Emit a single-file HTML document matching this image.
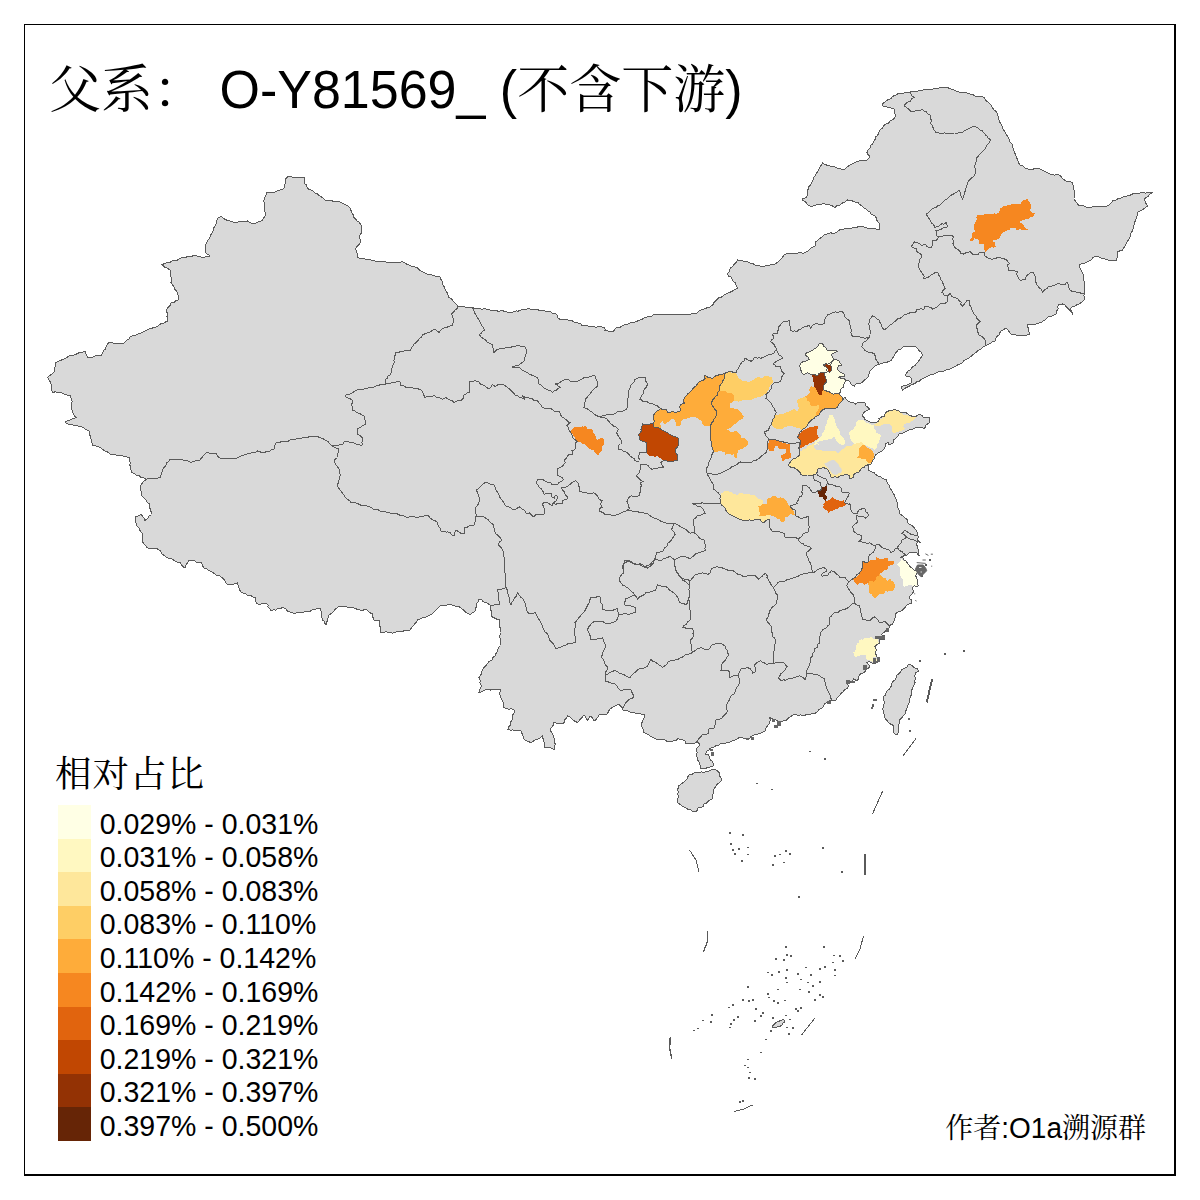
<!DOCTYPE html>
<html lang="zh"><head><meta charset="utf-8"><title>父系： O-Y81569_ (不含下游)</title>
<style>
html,body{margin:0;padding:0;background:#fff}
body{width:1200px;height:1200px;position:relative;overflow:hidden;font-family:"Liberation Sans","Noto Serif CJK SC",serif;color:#000}
.frame{position:absolute;left:24px;top:24px;width:1152px;height:1152px;box-sizing:border-box;border-style:solid;border-color:#000;border-width:1px 2px 2px 1px}
.title{position:absolute;left:49px;top:58px;font-size:52px;line-height:64px;white-space:pre;margin:0;font-weight:normal}
.ltitle{position:absolute;left:55px;top:752.5px;font-size:36.5px;line-height:44px;white-space:pre;letter-spacing:1px}
.sw{position:absolute;left:58px;width:33px;height:33.90px}
.lb{position:absolute;left:99.7px;font-size:28.5px;line-height:34px;white-space:pre;transform-origin:0 26.9px;transform:scaleY(1.04)}
.lat{display:inline-block;transform:scaleY(1.04)}
.author{position:absolute;right:54px;top:1112px;font-size:28px;line-height:34px;white-space:pre}
</style></head><body>
<svg width="1200" height="1200" viewBox="0 0 1200 1200" style="position:absolute;left:0;top:0">
<path d="M146.0,479.5 L143.9,477.8 L140.5,477.0 L139.4,475.6 L136.3,475.4 L135.0,474.0 L132.0,472.5 L130.8,469.3 L130.7,467.3 L129.8,464.9 L130.2,462.6 L129.5,460.4 L129.0,457.0 L126.7,457.0 L123.4,456.5 L121.8,455.2 L118.5,455.7 L114.7,454.5 L113.4,454.2 L110.0,454.0 L107.3,451.8 L105.4,451.4 L103.7,450.1 L101.0,448.0 L97.8,446.6 L96.1,445.9 L93.0,445.5 L92.1,443.1 L91.5,441.1 L90.9,438.6 L90.3,436.3 L89.5,434.0 L89.0,431.0 L87.1,430.3 L84.9,428.7 L83.2,427.6 L81.0,426.5 L78.4,426.1 L75.5,425.4 L72.4,424.9 L70.0,425.0 L66.8,423.6 L65.0,422.0 L67.0,420.9 L70.5,419.7 L73.9,418.4 L76.0,417.5 L74.5,415.9 L72.5,412.5 L72.0,410.0 L71.1,406.6 L71.7,404.6 L72.1,401.3 L70.9,398.1 L71.0,396.0 L68.5,395.6 L65.4,394.5 L62.3,393.3 L60.0,392.0 L58.0,392.3 L55.3,391.8 L52.5,392.5 L51.7,390.0 L51.6,386.9 L51.0,383.8 L50.4,382.1 L48.7,379.5 L47.5,377.5 L49.1,375.9 L51.6,374.3 L54.0,372.5 L54.6,370.6 L54.6,367.5 L55.6,366.0 L55.5,363.0 L58.1,361.2 L60.6,360.4 L62.8,359.5 L65.9,358.3 L68.5,356.1 L71.0,355.5 L73.2,355.3 L76.2,354.2 L78.8,352.9 L81.7,352.5 L85.0,351.0 L85.4,353.0 L86.9,355.3 L87.5,357.5 L89.7,357.7 L92.8,357.0 L96.0,355.7 L98.8,355.1 L101.0,355.5 L102.9,353.1 L103.2,350.5 L105.7,348.9 L105.7,347.4 L107.2,344.5 L108.8,342.5 L111.3,342.1 L114.1,343.5 L117.8,343.4 L120.4,343.3 L122.5,343.8 L124.7,342.4 L126.8,340.2 L128.9,338.9 L130.0,337.0 L133.0,335.6 L135.4,335.1 L137.8,334.2 L140.8,333.2 L142.0,332.5 L145.2,330.8 L147.3,329.7 L150.5,328.6 L152.5,328.0 L155.6,327.2 L158.3,325.7 L160.7,323.7 L162.5,324.0 L165.4,322.1 L168.0,321.0 L167.8,318.3 L166.9,316.2 L167.5,313.9 L166.8,311.8 L167.0,308.8 L168.4,307.1 L170.5,304.8 L171.0,303.0 L174.2,302.2 L176.0,300.7 L178.0,300.0 L178.5,297.5 L178.2,295.5 L177.5,293.8 L176.7,291.1 L174.5,289.3 L174.3,287.4 L172.1,284.1 L171.0,282.5 L171.6,278.8 L171.0,276.6 L170.9,273.5 L171.0,271.0 L169.6,269.7 L166.8,268.0 L164.3,266.9 L162.0,264.5 L165.1,263.5 L167.4,262.6 L170.0,262.3 L171.8,261.0 L175.0,260.0 L177.4,260.1 L180.3,258.2 L184.0,257.2 L186.1,257.2 L188.7,256.0 L191.5,256.4 L195.0,255.0 L196.9,255.9 L200.3,256.7 L202.5,258.0 L205.5,256.8 L206.8,256.5 L210.0,256.0 L208.4,254.7 L206.7,253.8 L205.5,252.0 L205.4,249.2 L205.6,247.3 L205.0,245.0 L206.7,242.8 L208.2,239.5 L209.6,238.4 L210.6,235.0 L212.5,232.5 L213.2,230.0 L213.8,227.7 L215.3,225.8 L216.5,222.4 L217.0,220.0 L218.1,218.1 L220.0,216.8 L222.0,216.9 L224.9,219.4 L227.0,220.2 L228.5,220.7 L231.2,221.2 L234.0,222.5 L236.4,222.4 L239.1,221.8 L241.5,221.1 L245.0,221.8 L247.5,221.0 L250.3,222.7 L252.5,223.8 L255.2,223.4 L257.8,222.0 L260.7,221.1 L262.5,220.0 L263.9,217.8 L265.5,215.0 L265.1,212.5 L264.7,210.0 L264.7,206.9 L264.8,204.3 L263.9,202.1 L264.0,200.0 L264.7,198.1 L266.0,195.2 L266.0,193.0 L268.5,192.6 L269.9,192.9 L273.2,192.8 L275.0,192.0 L277.8,190.5 L279.7,190.1 L282.5,189.3 L285.0,187.5 L284.5,185.6 L285.6,182.2 L285.0,180.0 L285.8,178.5 L287.5,177.0 L291.0,176.3 L292.3,177.4 L296.5,177.1 L298.7,177.3 L300.6,177.5 L304.0,177.0 L304.4,179.9 L304.4,182.3 L305.0,184.0 L306.4,184.9 L307.5,188.3 L309.0,189.5 L311.5,190.3 L313.2,191.3 L315.2,193.3 L317.5,194.0 L319.0,195.4 L322.2,197.5 L324.0,198.8 L326.0,201.0 L328.9,200.8 L331.5,200.4 L332.9,201.3 L336.0,201.0 L338.5,201.7 L340.8,202.1 L344.0,204.0 L346.1,205.1 L347.8,206.1 L350.0,208.0 L350.9,210.3 L351.9,213.0 L353.3,215.0 L354.0,217.5 L356.3,219.7 L357.0,221.3 L359.3,222.3 L361.0,225.0 L361.8,227.2 L361.4,228.7 L362.0,231.0 L361.2,233.2 L359.5,236.0 L359.7,238.9 L361.0,240.5 L359.9,243.3 L358.8,244.6 L356.9,246.6 L355.5,249.0 L357.0,252.5 L357.1,255.5 L358.0,257.5 L360.3,258.5 L363.0,258.5 L366.5,259.3 L369.1,259.2 L372.5,260.5 L375.7,261.2 L377.7,261.8 L380.5,261.7 L383.3,261.4 L386.0,262.0 L388.0,262.2 L391.6,262.3 L393.1,262.5 L395.7,262.4 L399.4,262.3 L402.1,261.8 L404.0,262.5 L406.4,264.0 L409.5,265.1 L412.7,266.7 L415.0,267.0 L417.3,267.7 L419.2,269.8 L422.4,271.7 L424.3,272.5 L427.1,274.1 L429.0,275.0 L431.5,274.8 L435.3,276.1 L437.8,276.3 L440.0,277.0 L440.6,279.1 L441.8,280.6 L442.5,282.5 L442.9,285.1 L444.4,286.8 L445.1,289.6 L447.3,292.9 L447.8,294.7 L449.0,297.5 L450.9,298.4 L452.9,300.6 L453.7,302.0 L456.1,304.0 L457.5,306.0 L460.9,306.8 L463.4,306.7 L466.0,307.3 L468.4,307.6 L471.0,307.5 L474.0,308.1 L476.0,308.8 L478.4,308.2 L482.1,309.3 L484.6,308.6 L487.4,309.3 L490.0,310.0 L492.8,310.2 L496.1,310.4 L498.8,311.5 L501.9,310.5 L504.1,311.2 L507.6,312.3 L510.0,312.0 L513.1,312.0 L516.4,310.7 L517.8,311.3 L521.3,309.8 L525.1,309.6 L527.0,308.9 L530.0,309.0 L533.1,309.8 L535.1,309.7 L537.5,309.7 L539.5,310.3 L541.9,310.8 L545.0,311.0 L547.3,311.0 L550.7,311.8 L552.6,313.7 L556.0,314.0 L557.6,315.8 L557.8,317.7 L560.0,319.5 L563.2,319.6 L564.4,319.6 L567.3,319.8 L570.2,320.8 L572.5,321.0 L574.5,322.2 L578.2,323.1 L580.7,323.9 L581.9,325.5 L585.0,326.0 L587.2,325.7 L589.9,326.9 L593.9,326.3 L595.5,327.5 L598.7,326.5 L601.1,326.9 L604.0,327.5 L605.2,329.2 L605.0,330.5 L607.4,330.8 L609.6,331.8 L612.5,332.0 L613.8,330.9 L615.9,328.1 L617.5,327.5 L620.3,327.1 L622.5,325.6 L625.0,324.3 L627.4,324.2 L630.3,322.9 L632.5,322.5 L636.0,321.8 L638.1,320.6 L639.7,320.0 L643.0,318.8 L645.0,317.6 L647.8,316.7 L651.5,316.6 L653.3,314.9 L656.0,314.5 L658.2,314.8 L661.1,314.2 L664.3,314.9 L666.2,314.4 L670.0,314.5 L672.3,314.5 L675.2,314.9 L677.5,315.0 L679.5,314.4 L683.3,314.7 L685.1,314.5 L689.0,314.4 L691.5,313.9 L694.0,314.0 L696.0,313.6 L698.2,311.8 L700.0,310.5 L702.6,309.6 L704.6,308.9 L706.7,307.9 L709.0,307.5 L710.6,306.5 L713.0,304.5 L713.6,302.7 L715.8,300.8 L717.5,299.0 L718.9,297.7 L721.6,297.1 L723.3,295.5 L726.0,294.0 L728.1,292.9 L731.3,291.7 L733.4,290.4 L735.0,289.7 L737.5,288.0 L736.9,286.4 L735.8,284.3 L735.0,282.5 L733.1,281.3 L731.2,277.2 L728.8,276.3 L727.5,274.0 L729.1,271.8 L729.5,270.2 L731.0,267.5 L733.1,266.2 L734.2,264.1 L735.9,262.7 L737.5,260.0 L739.4,260.2 L743.3,261.2 L745.6,261.4 L748.3,262.0 L750.0,263.0 L752.4,263.1 L755.2,265.2 L757.5,265.4 L759.6,265.8 L762.5,267.0 L765.0,266.1 L767.6,265.4 L769.6,265.4 L772.0,264.1 L775.0,264.0 L777.9,262.2 L780.1,260.1 L781.3,258.8 L784.1,255.1 L786.0,254.0 L789.0,253.5 L790.7,253.2 L794.4,253.2 L797.5,253.2 L799.0,252.6 L803.1,253.2 L805.0,252.5 L808.2,251.1 L810.1,248.7 L813.1,246.9 L815.0,246.0 L815.5,244.6 L815.5,242.0 L817.5,240.8 L819.2,238.7 L821.7,237.4 L824.0,235.0 L825.9,234.3 L828.3,233.6 L830.7,232.9 L834.3,233.4 L836.0,232.5 L838.0,231.3 L840.0,229.5 L843.5,229.4 L844.9,228.6 L848.1,228.2 L852.0,228.1 L854.6,227.6 L857.2,227.1 L860.0,226.0 L862.5,226.6 L865.6,227.4 L867.2,228.3 L870.0,229.0 L871.7,228.9 L874.1,228.6 L876.7,229.1 L879.5,229.5 L879.9,226.7 L880.0,224.0 L878.6,222.5 L877.0,220.4 L876.0,217.5 L874.4,215.5 L870.9,214.0 L869.9,212.1 L867.5,210.5 L865.5,208.6 L863.2,207.5 L861.8,206.0 L859.0,203.8 L857.5,202.0 L854.8,202.0 L852.6,201.0 L850.6,200.6 L847.5,200.0 L844.8,202.0 L842.0,203.2 L839.9,205.2 L836.6,205.8 L835.0,207.5 L832.5,206.0 L830.1,205.1 L827.4,204.6 L825.0,204.0 L822.2,203.8 L819.6,205.0 L817.4,204.9 L814.4,205.2 L812.6,206.1 L810.0,206.0 L807.3,204.6 L806.0,202.3 L804.8,201.7 L802.0,200.0 L802.9,198.6 L805.8,197.9 L807.0,196.0 L807.4,194.2 L807.3,191.2 L808.0,189.5 L808.9,186.6 L810.8,184.7 L812.1,181.5 L812.9,180.1 L814.3,176.7 L815.6,175.0 L816.9,172.7 L818.6,169.7 L819.5,167.5 L821.5,165.0 L822.5,163.0 L824.2,164.0 L827.9,165.6 L830.2,166.0 L832.8,167.0 L834.6,166.9 L837.6,168.3 L840.2,168.6 L842.5,170.0 L844.7,169.2 L847.6,166.4 L849.2,165.6 L852.2,163.7 L855.0,162.5 L857.2,161.3 L860.3,160.8 L862.6,160.9 L865.8,160.6 L867.5,159.5 L869.3,157.6 L870.0,156.0 L867.9,154.5 L867.0,152.5 L867.9,150.3 L870.1,148.1 L870.9,145.2 L872.5,144.0 L873.5,141.9 L874.9,139.9 L875.7,136.9 L877.8,135.2 L879.0,131.9 L880.0,130.0 L882.5,128.1 L884.0,125.3 L886.0,124.0 L888.7,122.9 L890.6,120.5 L892.8,119.8 L895.0,117.5 L895.4,115.0 L894.7,112.5 L894.0,109.0 L890.7,107.8 L887.6,107.3 L886.2,106.6 L882.5,106.0 L882.7,104.0 L884.0,102.5 L886.2,101.1 L888.0,99.6 L890.9,98.7 L892.8,96.3 L894.9,95.5 L897.5,94.0 L899.3,93.7 L902.2,93.7 L905.0,92.6 L907.6,92.3 L910.0,92.0 L912.8,91.7 L916.5,91.6 L919.4,90.7 L921.7,90.2 L924.9,89.5 L927.8,89.9 L930.0,89.0 L932.6,89.0 L935.0,88.3 L938.1,88.4 L939.6,87.9 L942.3,87.5 L945.0,87.0 L947.8,87.6 L949.9,88.7 L953.9,90.1 L956.0,91.0 L959.1,92.1 L961.4,92.3 L964.8,92.3 L968.0,93.2 L970.0,94.0 L972.6,94.5 L974.7,95.8 L977.4,96.6 L981.8,96.6 L984.0,97.5 L985.1,99.4 L986.9,101.4 L989.0,102.8 L991.0,105.0 L992.4,107.4 L993.8,109.8 L996.5,111.9 L997.5,114.0 L998.3,117.0 L999.1,120.4 L1000.0,122.5 L1001.0,124.1 L1002.5,126.8 L1003.0,129.3 L1005.0,131.9 L1006.0,134.0 L1007.6,136.3 L1009.1,138.8 L1009.7,141.6 L1011.5,143.2 L1012.5,145.0 L1013.0,147.7 L1013.5,150.2 L1015.3,154.1 L1016.0,156.0 L1017.2,159.0 L1018.2,161.2 L1018.6,163.0 L1020.0,165.0 L1023.5,166.3 L1025.0,168.2 L1027.5,169.0 L1030.4,169.3 L1033.2,169.7 L1034.3,168.3 L1037.0,168.8 L1040.0,169.0 L1041.8,170.0 L1044.7,171.4 L1048.2,173.2 L1050.0,174.0 L1052.7,174.2 L1054.5,175.1 L1056.4,174.9 L1059.0,175.0 L1061.0,176.5 L1062.5,178.8 L1063.9,179.7 L1066.0,181.0 L1067.7,181.5 L1071.0,182.0 L1072.5,183.0 L1073.4,185.8 L1073.8,189.3 L1074.5,191.1 L1075.0,194.0 L1074.1,195.7 L1074.0,199.0 L1076.1,202.0 L1077.2,203.2 L1079.0,206.0 L1082.4,205.9 L1085.1,206.1 L1086.7,207.3 L1090.0,207.5 L1092.3,207.0 L1095.2,206.6 L1099.4,206.7 L1100.8,206.3 L1105.0,206.4 L1107.5,206.0 L1109.8,204.5 L1111.3,202.9 L1112.5,201.0 L1114.8,200.5 L1118.0,198.7 L1120.6,198.3 L1122.3,197.4 L1125.0,196.0 L1126.8,196.0 L1130.1,195.3 L1132.9,193.8 L1135.6,193.3 L1137.0,194.0 L1140.0,193.0 L1143.2,192.5 L1145.5,193.3 L1148.1,192.0 L1150.2,192.0 L1152.5,192.5 L1149.5,194.3 L1148.4,196.0 L1146.8,197.0 L1144.0,199.0 L1145.4,201.6 L1145.9,203.2 L1147.5,206.0 L1144.6,208.1 L1143.1,209.5 L1140.3,210.8 L1137.5,212.5 L1137.4,215.2 L1136.3,218.3 L1135.5,220.8 L1134.7,221.7 L1134.0,225.0 L1133.0,228.7 L1132.4,230.9 L1131.0,232.6 L1130.2,236.9 L1129.0,239.0 L1127.6,241.2 L1126.1,243.9 L1125.4,245.7 L1123.7,247.8 L1122.5,250.0 L1119.7,250.9 L1117.5,252.0 L1118.0,253.9 L1117.8,256.9 L1116.6,259.1 L1117.0,261.0 L1114.0,260.4 L1112.8,260.4 L1109.4,260.2 L1107.5,260.0 L1105.7,259.1 L1103.0,258.5 L1101.2,258.2 L1098.5,256.5 L1096.0,256.0 L1092.7,257.5 L1091.6,259.5 L1088.0,261.7 L1086.0,262.5 L1084.2,263.5 L1081.7,263.4 L1079.0,265.0 L1080.2,268.2 L1081.1,270.5 L1082.5,272.5 L1083.3,274.3 L1083.1,277.8 L1083.6,280.6 L1084.7,282.5 L1084.5,285.0 L1084.2,287.5 L1084.2,288.9 L1084.1,292.3 L1084.5,294.0 L1083.7,295.5 L1084.6,297.5 L1084.0,300.0 L1081.7,302.1 L1079.1,303.9 L1077.6,304.2 L1075.0,306.0 L1072.1,307.1 L1070.0,309.0 L1071.8,311.1 L1072.1,312.3 L1073.0,315.0 L1071.6,312.3 L1070.0,310.4 L1068.2,308.9 L1066.2,306.7 L1065.0,305.0 L1062.6,304.0 L1060.4,304.6 L1059.0,304.0 L1057.7,306.8 L1058.2,308.9 L1056.3,311.2 L1056.0,314.0 L1054.0,315.0 L1051.5,316.5 L1049.9,315.9 L1047.5,317.5 L1045.4,319.5 L1043.4,320.9 L1041.0,322.5 L1038.5,323.1 L1036.1,324.1 L1032.3,324.7 L1030.7,324.3 L1027.5,325.0 L1028.0,327.4 L1028.8,330.1 L1028.7,331.7 L1030.0,334.0 L1027.1,335.0 L1025.0,336.0 L1022.3,335.3 L1020.0,335.1 L1016.5,335.1 L1013.5,334.5 L1011.0,334.0 L1009.2,331.8 L1008.3,330.1 L1006.0,328.0 L1003.9,329.6 L1001.2,330.8 L1000.0,332.5 L998.8,335.2 L997.1,336.3 L995.5,338.8 L995.0,341.0 L992.7,341.7 L990.6,343.3 L987.5,344.7 L985.0,346.0 L983.0,347.0 L981.2,349.1 L978.1,350.2 L976.1,352.2 L974.7,353.4 L972.5,355.0 L971.0,356.5 L969.0,358.0 L965.8,359.7 L964.4,360.2 L961.9,363.0 L960.0,364.0 L957.3,365.1 L954.4,366.7 L951.8,368.0 L950.0,369.0 L947.2,369.3 L945.0,370.8 L942.1,371.5 L939.8,371.3 L936.7,372.5 L933.6,374.3 L932.0,374.2 L928.6,375.8 L926.7,376.7 L924.1,377.9 L921.5,379.1 L919.0,381.3 L916.7,381.7 L915.3,383.3 L911.7,384.7 L910.0,385.8 L908.1,386.7 L904.8,388.4 L902.5,390.0 L901.5,388.2 L901.7,386.7 L904.2,385.4 L905.9,385.8 L908.2,384.3 L910.8,383.3 L911.5,381.2 L911.7,378.3 L909.6,376.9 L907.9,376.5 L905.0,375.8 L906.5,373.1 L908.3,370.8 L910.7,369.4 L912.5,366.7 L915.3,365.1 L916.7,363.3 L918.3,361.6 L920.1,358.7 L920.9,357.8 L922.5,355.0 L921.0,352.2 L919.4,351.0 L917.4,348.2 L915.8,346.7 L913.5,346.2 L911.3,347.0 L908.8,346.4 L905.5,346.3 L903.3,346.7 L901.0,349.1 L898.9,349.1 L896.7,351.7 L895.3,353.1 L894.4,355.6 L892.4,358.2 L891.7,360.0 L889.3,361.4 L887.0,362.2 L884.0,362.6 L882.0,363.3 L879.2,364.2 L876.7,365.0 L874.8,366.2 L873.3,367.9 L871.6,369.5 L869.2,371.7 L869.0,374.0 L868.8,375.8 L867.7,377.6 L865.0,379.6 L863.4,380.9 L861.7,382.9 L859.3,383.6 L856.7,383.8 L855.4,384.4 L854.6,386.2 L853.0,385.7 L851.2,384.2 L850.1,382.2 L848.3,380.4 L846.4,380.1 L845.0,379.2 L845.0,381.7 L843.8,384.2 L843.3,387.1 L842.0,387.9 L840.8,389.2 L841.0,391.1 L840.0,392.5 L838.8,393.8 L840.9,395.5 L842.2,397.6 L843.3,398.8 L845.0,397.5 L846.0,398.8 L847.5,400.8 L849.2,401.7 L851.7,402.9 L853.8,403.0 L855.8,404.2 L857.5,402.5 L860.2,402.0 L862.5,402.5 L864.0,402.0 L865.4,403.4 L866.0,406.0 L868.0,407.4 L869.5,409.0 L867.0,410.5 L864.9,411.7 L863.5,413.0 L862.6,414.3 L862.5,416.0 L863.8,416.9 L864.5,419.0 L867.1,420.4 L869.0,421.5 L871.3,422.7 L874.0,423.0 L875.8,422.5 L878.0,421.5 L879.2,420.0 L879.0,418.5 L881.9,416.8 L884.0,416.5 L884.7,414.4 L886.0,412.5 L887.4,411.4 L890.0,410.5 L892.1,410.5 L895.0,409.0 L896.6,410.5 L899.0,411.0 L900.6,412.4 L903.0,413.0 L905.0,412.9 L906.0,412.5 L908.2,414.3 L910.0,415.5 L911.8,416.1 L913.4,416.5 L916.0,416.5 L918.3,414.7 L920.0,414.5 L921.8,415.3 L923.0,417.0 L925.1,417.8 L927.9,417.9 L930.0,418.0 L929.0,420.1 L929.0,423.0 L927.5,424.1 L926.0,425.0 L925.6,426.7 L924.0,428.5 L921.6,427.5 L919.0,427.0 L916.0,427.7 L914.0,428.5 L911.9,429.5 L909.0,430.0 L906.7,431.3 L904.0,432.5 L901.0,433.7 L899.0,434.0 L898.1,435.9 L897.0,437.0 L895.4,438.5 L894.0,439.5 L893.2,440.7 L893.0,443.0 L891.1,444.1 L889.0,444.5 L888.0,442.0 L886.8,443.0 L885.0,443.0 L885.4,445.0 L886.0,446.0 L885.2,447.0 L884.0,449.0 L882.4,450.7 L880.0,452.0 L878.4,452.8 L876.0,454.5 L874.7,456.4 L874.0,459.0 L872.4,460.9 L871.0,464.0 L868.5,465.5 L868.6,467.0 L868.0,469.0 L869.2,470.7 L872.0,472.0 L873.9,472.4 L875.4,474.4 L878.0,476.0 L880.9,476.9 L883.6,479.0 L886.0,479.5 L886.7,481.3 L887.4,483.1 L889.0,485.0 L890.1,488.2 L891.8,490.5 L893.0,493.0 L894.5,495.0 L895.0,496.8 L896.3,499.9 L897.0,502.0 L897.5,504.1 L897.8,507.9 L899.0,510.2 L899.0,513.0 L901.1,514.8 L903.8,516.7 L905.5,518.3 L907.5,520.0 L907.8,522.6 L909.2,524.2 L911.0,524.9 L913.3,526.7 L915.2,529.0 L916.7,530.8 L917.6,533.8 L917.9,535.8 L918.2,537.6 L917.5,540.0 L919.1,541.2 L920.4,542.1 L917.5,541.8 L916.7,543.2 L916.7,545.0 L917.6,546.8 L917.9,548.3 L918.4,551.3 L917.9,553.3 L918.8,554.7 L920.0,556.2 L917.9,555.0 L916.7,552.5 L914.8,552.6 L911.6,552.2 L909.2,552.9 L907.0,555.0 L905.0,555.8 L903.2,555.7 L900.8,557.1 L902.6,557.6 L904.2,560.2 L905.8,560.8 L907.5,563.0 L908.8,564.9 L910.8,567.5 L912.5,568.4 L914.2,570.0 L916.9,570.8 L917.9,572.1 L916.3,574.3 L915.4,575.8 L916.8,577.7 L917.1,580.0 L917.3,583.5 L918.3,585.8 L916.7,586.7 L914.2,585.8 L912.5,587.5 L912.9,589.1 L913.3,591.7 L912.6,593.5 L910.8,595.0 L909.2,597.5 L910.3,599.6 L911.7,600.0 L911.5,602.1 L911.2,603.3 L910.1,603.4 L908.3,604.2 L906.3,605.3 L905.0,607.5 L903.2,609.3 L901.7,610.8 L900.5,611.4 L898.3,611.7 L895.9,613.5 L895.0,615.0 L895.0,618.1 L894.7,620.0 L893.8,621.7 L892.7,624.0 L891.0,624.4 L890.0,626.0 L888.7,628.7 L886.0,630.0 L884.8,632.0 L883.3,632.7 L881.3,634.7 L882.6,635.2 L884.7,635.3 L884.7,636.8 L884.7,639.0 L882.7,639.8 L881.3,639.3 L879.3,640.0 L880.1,642.0 L879.7,643.3 L878.4,643.5 L876.7,644.7 L874.7,646.7 L876.0,649.3 L876.1,650.9 L875.7,653.3 L876.0,654.5 L876.0,656.3 L877.6,657.7 L879.3,658.0 L878.9,659.8 L879.7,661.3 L877.7,661.7 L876.7,662.7 L874.0,664.0 L871.3,662.7 L868.7,661.3 L866.7,662.7 L867.7,663.5 L869.3,665.3 L870.0,667.3 L868.1,668.2 L866.7,668.0 L866.0,670.0 L865.3,671.4 L864.0,672.7 L861.3,673.3 L859.3,675.3 L858.8,676.6 L858.7,678.7 L856.7,680.7 L855.0,679.7 L853.3,678.7 L852.8,680.4 L851.3,682.7 L849.8,681.5 L848.7,680.0 L846.7,682.0 L847.7,684.8 L848.7,686.0 L847.0,688.4 L845.3,689.3 L843.8,690.5 L843.3,692.0 L841.7,692.8 L840.7,694.0 L839.5,695.7 L837.3,697.3 L836.0,700.0 L833.4,700.5 L831.7,700.0 L829.7,700.4 L826.7,702.5 L824.9,703.8 L823.1,706.6 L821.7,708.3 L819.0,709.4 L817.1,712.0 L815.0,713.3 L811.8,713.7 L808.5,715.0 L806.3,714.7 L803.3,715.8 L800.5,714.9 L798.1,715.8 L796.3,714.7 L793.3,715.0 L790.5,716.7 L788.8,717.9 L786.7,720.0 L783.8,720.6 L780.6,721.7 L778.3,721.7 L775.7,719.8 L774.1,719.9 L772.2,718.6 L769.2,717.5 L769.5,718.6 L771.0,720.0 L770.0,721.0 L768.9,724.0 L767.5,726.0 L766.0,727.9 L765.0,731.0 L762.9,732.2 L760.6,733.3 L758.5,734.0 L756.1,734.4 L754.0,735.0 L751.2,736.4 L750.0,737.8 L748.0,739.5 L746.6,738.3 L745.0,738.0 L743.0,738.0 L740.9,737.7 L739.0,737.0 L737.9,738.6 L735.0,740.0 L732.1,741.0 L730.0,742.0 L726.7,742.3 L725.0,743.5 L723.0,743.5 L720.0,744.0 L718.6,745.5 L715.9,745.7 L714.0,747.0 L712.4,747.6 L710.0,748.5 L708.6,750.4 L707.0,751.0 L706.3,752.2 L705.5,754.5 L707.1,754.1 L708.5,755.0 L709.5,757.5 L710.6,760.0 L712.0,761.0 L712.9,762.7 L713.5,765.5 L711.6,766.7 L710.0,767.0 L707.9,767.6 L705.0,768.5 L702.1,768.0 L700.5,768.0 L700.1,764.9 L699.5,763.0 L698.3,761.0 L697.4,759.8 L697.0,757.0 L696.4,755.3 L697.2,752.2 L696.5,750.0 L697.1,747.6 L698.9,746.5 L699.5,744.0 L698.4,742.6 L697.0,741.5 L694.8,743.3 L693.0,743.5 L690.7,743.2 L688.7,743.6 L686.0,744.0 L685.1,742.2 L685.0,740.5 L683.1,740.0 L679.6,739.4 L678.0,738.5 L676.0,740.5 L673.6,740.7 L671.2,741.6 L669.0,742.0 L667.0,741.4 L664.0,739.5 L661.8,739.7 L660.0,740.0 L657.5,739.5 L655.3,738.8 L652.6,737.2 L650.2,736.1 L648.1,734.6 L646.3,733.8 L644.0,732.5 L643.8,730.5 L642.3,728.0 L641.4,725.6 L641.0,724.0 L642.2,722.4 L643.3,719.5 L644.5,717.3 L645.0,715.0 L642.6,714.6 L640.0,713.6 L638.2,713.7 L635.0,713.0 L632.4,712.8 L629.3,711.9 L628.0,710.9 L625.3,710.3 L622.5,710.0 L621.7,707.4 L620.0,705.5 L619.0,704.0 L616.2,705.6 L613.9,706.6 L612.3,707.6 L610.0,709.0 L608.4,711.4 L607.5,714.0 L604.7,714.3 L601.9,714.6 L599.0,715.0 L597.6,717.5 L596.3,719.1 L595.0,721.0 L593.1,719.7 L592.5,717.6 L590.0,716.0 L588.9,718.6 L587.5,720.0 L586.3,719.0 L585.3,716.3 L584.0,715.0 L582.2,717.3 L580.6,718.6 L579.3,720.7 L577.5,722.5 L574.7,721.2 L572.1,719.1 L570.2,717.0 L567.5,716.0 L566.6,718.2 L564.9,719.4 L564.3,722.4 L562.5,724.0 L560.4,723.2 L556.8,723.1 L554.0,722.5 L553.2,725.2 L552.2,726.7 L550.5,729.0 L551.0,731.5 L552.9,734.5 L553.3,736.4 L554.5,739.0 L554.3,741.2 L555.3,744.4 L554.4,747.1 L555.0,749.0 L552.9,749.0 L550.4,747.6 L547.4,748.0 L545.0,747.5 L544.9,744.5 L543.9,741.7 L543.0,738.5 L542.5,736.0 L539.9,738.2 L538.9,738.8 L535.8,739.8 L533.6,740.9 L531.0,742.5 L527.9,741.5 L525.6,740.2 L524.0,739.0 L523.1,736.5 L522.4,734.4 L521.0,731.0 L517.7,730.2 L515.4,730.7 L512.5,729.8 L510.9,730.4 L508.0,729.5 L508.8,726.6 L510.2,725.4 L510.9,721.8 L511.8,720.6 L512.5,717.5 L512.9,714.6 L514.0,712.9 L514.0,710.0 L511.2,708.8 L508.6,709.2 L506.7,708.8 L504.0,707.5 L503.5,705.4 L503.1,702.5 L502.2,700.0 L500.8,697.6 L500.0,695.0 L499.9,693.1 L500.1,691.4 L501.0,689.0 L498.9,689.5 L496.4,689.8 L492.4,689.2 L490.3,690.1 L487.1,689.2 L485.0,690.0 L482.9,691.3 L481.0,692.0 L479.0,692.5 L479.6,690.1 L481.0,687.1 L481.0,685.0 L479.9,682.6 L480.2,680.6 L479.0,677.5 L480.5,675.6 L481.6,673.4 L482.3,670.1 L484.0,667.5 L485.9,665.8 L487.9,662.9 L489.4,661.2 L491.7,660.4 L493.1,657.2 L495.0,656.0 L495.9,653.6 L497.3,651.3 L498.2,648.1 L500.0,646.0 L500.1,643.0 L500.6,641.2 L500.0,638.4 L499.8,635.9 L500.5,632.5 L500.6,630.2 L500.0,627.5 L499.4,624.5 L499.2,622.0 L499.5,620.0 L497.0,619.3 L494.6,618.0 L492.5,617.5 L491.2,614.7 L491.2,611.9 L490.9,609.8 L490.6,607.1 L490.0,605.0 L487.2,603.2 L485.0,602.5 L482.6,601.6 L482.3,600.3 L480.0,599.0 L478.4,600.1 L477.9,602.1 L476.0,604.0 L476.4,606.3 L475.9,607.9 L476.0,610.0 L473.8,612.4 L472.4,612.6 L470.0,615.0 L467.6,613.1 L466.0,612.5 L463.3,609.9 L462.2,609.0 L460.4,607.5 L457.5,606.0 L455.0,606.1 L452.2,605.0 L449.0,604.0 L446.2,605.3 L443.9,605.1 L442.3,605.3 L440.0,606.0 L438.1,607.9 L435.6,610.1 L434.8,611.2 L432.5,613.6 L430.0,615.0 L427.9,615.9 L425.7,617.4 L422.2,617.8 L419.9,619.2 L417.5,620.0 L416.1,622.6 L414.7,623.8 L413.2,625.9 L411.6,627.6 L410.0,630.0 L406.9,630.8 L404.4,630.3 L402.1,631.9 L399.8,632.0 L397.6,631.4 L395.0,632.5 L392.1,633.1 L388.7,632.3 L386.1,631.9 L383.1,632.2 L381.0,632.5 L380.9,629.7 L379.9,626.1 L379.9,623.1 L380.0,621.0 L377.8,620.9 L376.4,620.1 L374.0,620.0 L373.2,618.2 L372.6,616.1 L372.5,614.0 L370.3,612.9 L367.9,610.7 L366.0,609.0 L363.9,609.4 L362.5,611.0 L359.6,610.0 L357.4,609.9 L355.8,608.4 L352.5,607.5 L349.4,607.4 L346.8,606.9 L344.6,606.6 L341.7,606.0 L339.0,606.0 L337.6,607.4 L334.6,609.9 L333.6,611.5 L330.9,613.7 L329.0,615.0 L327.9,618.2 L327.6,619.7 L326.7,622.5 L326.0,625.0 L324.5,623.0 L324.2,621.4 L322.5,620.0 L321.8,617.6 L321.1,614.8 L321.3,613.4 L321.0,610.8 L320.0,608.0 L316.6,608.6 L315.3,610.0 L312.2,609.8 L310.3,611.1 L307.5,612.0 L304.9,611.5 L302.4,612.5 L300.6,612.8 L297.3,612.2 L295.6,613.1 L292.5,613.0 L289.1,611.7 L287.6,611.1 L285.4,608.5 L282.5,607.5 L280.2,608.8 L277.8,608.4 L276.1,610.1 L273.3,609.9 L271.0,611.0 L269.7,608.4 L267.9,607.2 L268.1,605.1 L266.0,603.0 L262.6,603.2 L260.2,604.4 L257.5,604.0 L256.1,602.2 L255.6,599.6 L255.0,597.5 L252.4,596.9 L250.8,595.4 L247.7,595.4 L245.8,593.8 L243.8,593.5 L241.0,592.0 L239.6,589.8 L239.0,587.8 L238.1,585.0 L237.5,583.0 L235.4,583.2 L232.4,584.6 L231.0,584.3 L228.0,585.0 L226.0,583.1 L224.7,580.4 L222.5,578.0 L219.8,576.0 L217.8,575.3 L215.9,574.9 L213.5,572.9 L211.6,571.8 L208.2,570.2 L206.9,568.9 L204.0,568.0 L202.8,566.3 L202.1,563.8 L201.0,562.5 L198.8,562.3 L196.6,562.2 L194.1,560.6 L191.1,560.5 L189.0,560.0 L187.5,562.9 L185.7,565.5 L185.0,568.0 L182.8,566.5 L181.2,564.5 L180.0,562.5 L176.8,562.0 L174.7,560.9 L172.6,559.3 L170.3,558.2 L168.3,558.1 L166.0,557.0 L164.3,555.7 L161.9,553.7 L160.5,550.9 L157.5,549.0 L155.2,548.5 L152.4,548.4 L149.0,549.0 L147.2,547.5 L145.3,545.5 L143.0,542.5 L142.5,540.7 L142.7,537.0 L142.5,535.0 L142.1,533.1 L139.8,530.3 L139.0,528.2 L137.0,526.0 L136.3,524.5 L135.9,522.2 L135.3,519.0 L135.0,517.0 L137.2,516.3 L139.6,515.1 L141.0,514.0 L142.7,516.5 L144.3,518.3 L145.0,520.5 L147.6,518.6 L149.1,516.1 L151.0,515.0 L151.1,511.8 L150.1,508.8 L149.4,507.4 L149.5,504.0 L147.6,502.9 L145.9,499.9 L144.1,498.1 L142.0,496.0 L141.7,492.8 L141.1,491.0 L140.6,488.3 L140.0,486.0 L142.0,483.6 L143.3,481.6Z M909.2,664.2 L910.8,664.6 L912.8,666.3 L914.2,667.9 L915.6,668.1 L917.1,668.8 L918.0,670.2 L918.8,671.7 L917.1,671.8 L915.8,672.9 L915.4,674.2 L914.6,675.8 L915.8,678.3 L914.9,680.6 L915.0,682.5 L914.4,684.3 L913.3,686.7 L912.3,688.8 L911.7,690.0 L911.2,691.5 L911.7,694.2 L910.7,695.9 L910.0,698.3 L909.9,700.3 L909.2,702.5 L908.0,705.3 L907.5,707.5 L906.2,709.5 L905.8,711.7 L905.2,713.7 L903.3,715.8 L902.2,717.3 L900.8,718.8 L899.4,720.1 L899.2,721.7 L899.4,723.1 L898.8,725.0 L898.8,727.1 L898.3,730.8 L898.1,732.9 L897.5,734.2 L895.8,734.6 L893.8,732.5 L893.2,729.7 L893.8,726.7 L892.5,724.6 L891.1,724.3 L889.2,723.3 L887.9,721.7 L885.8,719.2 L884.6,717.4 L884.6,715.0 L883.8,713.3 L883.8,711.2 L882.5,709.6 L882.8,708.3 L883.3,706.7 L884.2,703.6 L884.2,701.7 L883.2,699.8 L883.3,697.9 L884.2,695.9 L885.8,695.0 L885.9,692.9 L887.1,690.8 L889.2,689.2 L890.0,687.9 L891.2,686.2 L891.7,683.3 L892.8,681.5 L895.0,680.0 L896.2,677.5 L896.6,675.6 L898.3,674.2 L900.9,671.7 L901.7,669.6 L904.0,668.2 L905.8,667.9 L906.9,667.3 L907.5,665.4Z M689.0,775.0 L691.5,774.8 L693.5,773.4 L695.5,772.5 L697.7,772.5 L701.6,771.9 L704.0,772.5 L705.9,771.5 L708.3,771.3 L710.0,770.5 L712.0,769.6 L714.5,769.5 L716.7,770.2 L719.0,772.5 L719.5,775.4 L720.5,777.4 L721.5,779.0 L721.0,781.5 L719.4,782.7 L717.0,784.5 L715.5,786.8 L714.0,789.0 L713.2,791.1 L713.0,794.0 L712.4,796.1 L712.0,799.0 L709.5,800.3 L708.0,801.5 L706.5,803.0 L704.0,804.0 L703.0,806.5 L700.8,807.8 L698.0,808.0 L697.5,809.7 L696.5,811.0 L694.5,811.5 L692.2,811.2 L691.0,810.0 L688.1,809.4 L686.0,808.0 L684.6,807.3 L682.0,806.0 L680.4,804.8 L678.0,803.0 L677.1,801.4 L677.5,800.0 L678.1,798.1 L678.5,796.0 L677.9,794.6 L678.2,791.4 L677.5,790.0 L678.0,788.6 L678.0,786.0 L679.6,785.1 L681.5,783.5 L683.9,782.4 L686.0,780.0 L687.4,778.8 L688.0,776.5Z M772.0,1026.2 L774.1,1024.5 L776.2,1022.5 L778.0,1021.7 L781.4,1020.2 L783.7,1019.5 L785.0,1022.0 L782.5,1023.4 L782.0,1025.3 L780.0,1026.2 L778.0,1026.5 L775.0,1028.0 L772.7,1027.4Z" fill="#d9d9d9" stroke="none" shape-rendering="crispEdges"/>
<path d="M821.7,343.3 L823.3,344.5 L823.8,346.2 L825.3,347.0 L826.7,348.8 L827.1,350.8 L830.1,351.0 L832.5,350.8 L833.7,350.3 L835.8,350.4 L837.5,351.2 L836.0,352.1 L834.2,352.9 L832.1,353.8 L831.8,355.2 L832.5,357.5 L834.2,359.6 L836.7,360.0 L838.6,360.6 L839.2,361.7 L840.8,363.8 L842.1,365.0 L839.2,365.0 L837.9,367.1 L837.9,370.0 L840.0,372.1 L841.3,372.8 L843.3,373.3 L844.6,375.0 L844.2,376.7 L841.5,376.8 L840.0,376.7 L837.9,377.9 L840.0,377.9 L841.7,378.3 L843.5,378.6 L845.0,379.2 L845.0,381.7 L843.8,384.2 L843.3,387.1 L842.0,387.9 L840.8,389.2 L841.0,391.1 L840.0,392.5 L838.8,393.8 L836.9,393.4 L835.8,393.3 L833.3,394.2 L831.6,393.3 L830.0,392.5 L828.7,391.3 L826.7,391.2 L825.7,390.5 L823.8,390.0 L823.6,388.8 L823.3,386.7 L823.9,385.2 L824.6,383.8 L826.2,382.1 L826.5,380.2 L825.4,378.3 L825.1,376.2 L824.2,375.0 L824.6,372.5 L821.3,372.6 L819.2,373.3 L817.5,375.4 L815.8,375.1 L814.2,374.2 L812.1,374.6 L810.3,374.1 L807.9,372.9 L806.2,373.3 L805.0,374.2 L803.1,374.0 L802.1,372.9 L801.6,371.7 L800.8,370.0 L800.4,367.9 L799.6,365.4 L801.2,362.9 L803.6,361.2 L805.4,361.2 L807.4,360.7 L809.2,359.2 L807.9,357.1 L806.4,355.8 L805.4,355.4 L806.2,352.9 L809.0,351.9 L810.8,351.2 L812.8,350.4 L814.6,348.3 L816.4,347.8 L817.5,346.7 L818.8,344.2 L820.3,343.2Z M897.1,563.8 L898.9,562.5 L900.0,561.2 L901.7,559.2 L903.5,560.6 L905.0,560.8 L906.3,561.7 L907.5,564.2 L909.3,566.5 L910.8,567.5 L912.5,568.4 L914.2,570.0 L916.9,570.8 L917.9,572.1 L916.3,574.3 L915.4,575.8 L916.8,577.7 L917.1,580.0 L917.1,581.6 L916.7,583.3 L916.9,584.6 L917.1,586.7 L915.5,585.9 L914.2,585.8 L911.7,585.4 L910.0,585.0 L908.8,585.3 L906.7,586.2 L904.6,586.7 L902.5,584.6 L903.2,582.6 L903.3,580.8 L902.7,578.7 L901.2,577.5 L900.1,575.9 L900.0,574.2 L900.5,572.0 L900.4,570.8 L900.1,568.3 L899.2,566.7 L897.6,565.6Z" fill="#FFFFE5" stroke="none" shape-rendering="crispEdges"/>
<path d="M828.5,416.0 L830.3,414.9 L832.5,415.0 L834.0,417.5 L834.7,419.4 L834.5,421.0 L835.5,422.5 L836.0,424.0 L836.7,426.4 L837.5,428.0 L839.1,429.4 L840.0,432.0 L840.2,434.0 L842.0,437.0 L843.6,438.5 L844.5,440.5 L844.8,442.5 L845.0,444.0 L844.1,444.8 L842.0,445.0 L840.1,444.2 L839.0,444.0 L837.1,441.5 L836.0,440.0 L835.3,438.1 L834.0,436.5 L832.0,438.5 L829.5,438.8 L827.5,440.0 L825.6,440.0 L823.0,440.5 L821.0,440.6 L819.5,441.0 L818.1,441.9 L817.0,443.0 L818.5,444.5 L816.6,444.3 L814.0,445.0 L815.1,443.0 L815.5,441.5 L817.1,440.1 L819.5,438.5 L821.5,435.9 L822.0,434.0 L823.3,432.3 L825.0,429.5 L825.3,426.1 L826.5,424.0 L826.5,421.9 L827.5,420.0 L828.7,418.0Z M859.0,420.0 L860.7,419.7 L863.0,419.5 L864.3,420.8 L866.0,423.0 L867.8,423.0 L870.0,424.0 L871.7,424.9 L874.0,424.5 L874.4,427.1 L874.0,429.0 L875.6,430.5 L876.0,432.0 L877.0,433.2 L879.0,434.0 L880.6,434.8 L882.0,436.0 L880.4,437.3 L880.0,438.5 L879.5,439.7 L879.0,442.0 L877.0,444.0 L877.2,446.0 L876.0,449.0 L874.0,450.0 L872.5,448.0 L871.1,448.0 L869.0,447.0 L866.4,445.9 L864.5,445.0 L862.8,443.6 L861.0,442.0 L859.6,442.8 L857.0,442.5 L855.6,443.6 L854.0,443.5 L852.8,442.5 L852.0,441.0 L850.7,439.9 L850.0,437.0 L849.4,435.0 L849.0,433.0 L850.3,431.5 L852.0,430.0 L853.4,429.2 L854.5,427.0 L855.6,425.5 L856.0,423.0 L857.7,421.2Z M853.0,652.7 L854.8,651.3 L855.7,649.3 L856.0,646.8 L856.3,645.3 L856.8,643.8 L858.7,642.7 L859.3,640.0 L861.5,639.3 L863.0,639.7 L864.7,638.0 L865.8,638.5 L868.0,638.3 L870.1,637.6 L871.3,637.3 L873.3,639.0 L876.0,638.7 L878.0,639.3 L878.3,642.0 L879.7,643.3 L878.4,643.5 L876.7,644.7 L874.7,646.7 L876.0,649.3 L876.1,650.9 L875.7,653.3 L876.0,654.5 L876.0,656.3 L874.9,657.2 L872.7,657.3 L874.0,660.0 L876.7,658.7 L878.0,661.3 L875.4,661.8 L874.0,662.7 L872.4,662.4 L870.7,660.7 L868.0,660.0 L866.5,658.8 L866.3,657.3 L866.0,654.7 L864.3,654.5 L862.0,655.0 L859.9,655.7 L858.7,656.3 L856.4,656.7 L854.0,656.3 L854.0,654.1Z" fill="#FFF8C1" stroke="none" shape-rendering="crispEdges"/>
<path d="M814.0,448.0 L815.3,448.5 L817.0,450.0 L818.8,450.3 L821.0,449.5 L823.0,451.5 L825.0,450.7 L827.0,450.5 L830.0,450.5 L832.0,450.9 L834.3,451.0 L836.0,451.5 L837.4,452.6 L839.0,452.5 L841.4,450.2 L843.0,449.0 L845.4,447.4 L847.0,445.5 L848.6,446.3 L850.0,446.5 L852.6,444.8 L854.0,443.5 L855.6,443.6 L857.0,442.5 L859.6,442.8 L861.0,442.0 L862.8,443.6 L864.5,445.0 L862.8,445.4 L860.7,447.2 L858.5,448.0 L858.7,449.9 L859.0,452.0 L859.5,453.4 L859.0,455.5 L857.9,456.3 L857.0,458.0 L859.8,458.2 L862.0,459.0 L864.4,459.4 L866.0,459.5 L866.5,461.3 L868.0,462.5 L870.0,462.8 L871.0,464.0 L868.5,465.5 L870.8,464.2 L869.3,464.1 L867.5,465.0 L865.2,465.7 L864.3,467.3 L862.1,467.9 L860.6,469.4 L859.2,472.1 L857.1,472.6 L854.2,474.2 L853.4,475.3 L853.3,477.5 L852.1,478.1 L850.0,479.2 L849.1,477.4 L849.2,475.8 L846.7,474.2 L843.9,475.0 L842.1,475.0 L840.1,476.1 L838.3,477.1 L836.6,477.3 L835.0,476.7 L833.4,477.4 L832.1,477.9 L830.9,476.7 L830.8,475.0 L829.2,472.5 L828.5,470.5 L826.7,468.8 L824.2,467.9 L822.0,468.0 L819.2,468.3 L817.1,470.0 L817.2,471.7 L816.7,473.8 L815.0,474.8 L813.3,475.0 L810.8,475.0 L807.5,475.0 L804.8,475.4 L803.4,475.4 L800.8,474.6 L800.0,472.5 L798.3,470.7 L796.7,469.2 L794.1,467.8 L792.5,467.5 L791.0,467.4 L788.8,465.8 L788.9,464.2 L790.0,462.5 L791.0,461.3 L792.5,459.2 L795.1,458.5 L796.7,457.5 L798.8,455.7 L800.0,453.8 L799.6,451.8 L799.2,450.0 L801.2,451.2 L803.7,449.3 L806.2,448.5 L807.5,446.4 L809.1,445.6 L811.9,444.4 L813.8,443.8 L815.0,443.1 L814.1,445.6Z M874.0,424.5 L875.1,423.7 L877.0,423.0 L878.7,421.4 L880.0,419.5 L881.9,418.9 L883.0,417.5 L883.5,416.2 L885.0,415.0 L886.5,412.8 L889.0,411.5 L891.6,410.1 L894.0,409.0 L895.5,409.4 L898.0,410.0 L900.1,411.4 L901.0,413.0 L903.6,414.8 L906.0,415.0 L907.7,415.4 L910.0,416.5 L912.2,416.7 L914.1,417.3 L916.0,417.5 L913.8,419.4 L913.0,421.0 L910.6,421.6 L909.0,423.0 L906.2,423.5 L904.0,424.0 L903.5,426.5 L904.4,428.2 L906.0,429.0 L904.5,429.4 L902.5,430.5 L900.4,430.9 L898.0,432.0 L896.2,432.6 L894.0,433.5 L892.4,431.7 L891.5,430.0 L891.9,428.8 L892.5,426.5 L890.6,425.1 L890.0,423.5 L888.5,423.9 L886.0,424.0 L883.8,424.3 L882.0,425.0 L880.6,425.8 L879.0,425.5 L877.4,426.3 L875.0,426.0Z M721.5,493.0 L722.8,492.4 L724.5,491.0 L726.7,490.9 L730.0,492.0 L731.9,492.3 L734.0,494.0 L736.2,494.4 L737.0,495.5 L738.8,493.6 L741.0,493.0 L742.5,493.5 L744.6,493.9 L747.0,494.0 L749.1,493.9 L752.1,495.4 L754.0,495.0 L755.2,496.1 L757.0,497.5 L758.8,498.8 L760.5,499.1 L762.5,500.0 L762.7,502.2 L763.0,504.0 L761.1,505.3 L758.5,506.5 L759.3,509.1 L759.0,511.0 L759.6,512.6 L759.5,515.5 L761.5,515.9 L764.3,515.8 L766.0,515.5 L767.7,514.6 L769.0,514.5 L770.0,516.2 L770.0,519.0 L768.0,519.5 L766.0,520.5 L764.3,522.2 L762.5,522.5 L761.5,521.4 L760.0,519.5 L757.8,519.9 L756.4,519.5 L754.0,520.0 L752.6,520.8 L749.7,519.9 L748.0,520.5 L745.5,520.3 L743.0,521.0 L741.5,519.6 L740.0,519.5 L738.5,518.6 L735.9,517.8 L734.0,516.5 L731.2,515.1 L729.5,514.5 L727.5,512.7 L726.0,510.5 L725.2,508.4 L723.5,506.5 L721.4,504.9 L720.5,503.0 L720.2,500.8 L721.0,498.0 L720.7,495.9Z" fill="#FEE79B" stroke="none" shape-rendering="crispEdges"/>
<path d="M724.0,373.5 L727.3,372.4 L729.0,371.0 L731.0,373.0 L733.8,373.5 L736.0,373.0 L737.3,375.0 L738.0,377.5 L740.7,379.4 L742.0,380.5 L744.0,380.6 L746.2,381.2 L749.0,382.0 L752.0,380.4 L754.0,379.5 L755.4,378.4 L758.0,377.0 L759.6,377.3 L762.0,378.0 L763.6,376.6 L767.0,376.0 L770.0,376.9 L772.0,377.5 L772.4,380.0 L773.0,381.5 L772.3,383.4 L770.5,385.0 L769.5,387.0 L769.0,390.0 L767.3,391.6 L766.0,394.0 L763.6,394.5 L762.0,396.0 L759.9,397.3 L757.0,397.5 L754.5,398.1 L752.0,399.5 L749.6,400.1 L747.0,400.0 L745.5,400.3 L743.0,399.5 L741.0,401.0 L738.4,401.7 L737.2,400.8 L735.0,401.0 L734.0,401.0 L734.2,398.7 L734.5,397.0 L733.1,394.8 L732.0,393.5 L729.9,392.9 L727.0,392.5 L725.9,391.6 L724.5,390.5 L722.7,391.3 L720.5,391.5 L719.0,391.0 L719.9,388.4 L719.5,386.0 L720.5,385.0 L722.0,383.0 L722.7,381.1 L723.7,379.7 L724.5,377.5 L724.3,375.7Z M804.6,396.7 L806.7,398.3 L807.1,400.8 L809.6,401.7 L810.0,404.2 L812.1,406.2 L814.0,405.6 L816.8,405.8 L818.3,405.0 L819.6,405.8 L819.3,407.9 L817.5,411.2 L816.2,412.8 L815.4,414.2 L816.7,416.2 L815.3,416.6 L814.2,418.3 L812.0,419.7 L810.8,420.8 L809.3,422.2 L807.5,424.6 L806.7,426.3 L804.6,428.3 L803.1,429.9 L801.7,430.0 L800.3,429.0 L798.8,427.9 L797.4,427.8 L795.0,427.1 L793.2,426.5 L790.0,425.4 L791.0,426.5 L788.4,426.1 L786.0,427.0 L784.4,427.3 L782.0,429.0 L779.1,428.5 L777.0,429.0 L774.4,428.0 L773.0,426.5 L771.4,425.4 L771.0,424.0 L772.1,422.4 L773.0,419.0 L774.3,415.9 L776.0,414.5 L778.0,414.8 L780.1,414.2 L782.0,414.0 L784.1,413.6 L787.1,412.2 L789.0,411.5 L790.9,410.4 L794.0,409.0 L795.6,410.5 L797.0,412.0 L798.2,410.4 L799.0,408.0 L797.9,405.5 L797.5,403.0 L797.1,400.9 L798.0,399.5 L799.0,398.8 L801.0,398.0 L802.7,397.8 L805.0,398.5 L806.5,401.0 L808.3,401.2 L810.0,402.0 L807.7,401.8 L805.4,402.4 L801.8,402.4 L800.0,403.3 L797.9,401.7 L797.5,399.6 L800.0,398.3 L802.5,397.9Z" fill="#FECE65" stroke="none" shape-rendering="crispEdges"/>
<path d="M654.0,427.0 L654.5,424.1 L654.2,421.8 L653.1,420.1 L653.5,417.0 L653.6,415.1 L655.0,413.0 L656.8,411.2 L659.0,410.0 L661.0,409.0 L663.3,409.5 L666.5,409.5 L667.3,411.5 L668.0,412.5 L670.4,412.1 L671.8,411.9 L674.0,412.0 L676.6,412.1 L677.8,411.3 L680.0,411.5 L680.4,410.0 L679.8,406.5 L680.5,405.0 L682.5,403.5 L685.0,404.0 L683.7,401.9 L683.5,400.0 L684.4,398.2 L686.0,396.0 L687.8,393.7 L690.0,392.0 L691.9,390.4 L693.4,387.9 L696.0,386.0 L697.2,384.1 L699.0,382.1 L701.0,381.0 L703.3,380.1 L705.0,378.5 L704.9,376.9 L705.0,375.5 L706.2,376.1 L708.0,377.5 L709.8,377.7 L712.0,378.5 L714.5,376.9 L716.0,375.5 L718.1,375.4 L720.0,374.0 L722.7,374.3 L724.0,373.5 L724.3,375.5 L724.0,378.0 L722.7,380.1 L722.0,383.0 L720.5,384.2 L720.0,386.5 L718.8,389.2 L719.0,391.0 L718.1,394.0 L716.5,396.0 L715.2,397.9 L712.5,399.5 L711.6,402.2 L711.5,404.0 L713.4,407.1 L714.5,409.0 L715.4,410.7 L716.5,413.0 L715.7,415.2 L716.0,417.0 L714.3,418.7 L714.0,420.0 L712.7,422.0 L712.0,423.5 L710.9,424.6 L710.0,426.0 L707.3,426.5 L705.0,426.0 L703.8,425.6 L702.5,424.0 L702.2,421.5 L701.0,420.5 L698.5,419.0 L696.6,417.6 L694.0,416.5 L692.4,416.7 L690.0,417.5 L687.3,417.9 L686.0,419.0 L683.7,419.3 L681.0,421.0 L680.9,423.8 L680.0,425.5 L678.4,426.1 L676.0,425.5 L676.3,423.2 L675.5,422.0 L674.6,420.4 L673.5,418.5 L671.0,419.0 L669.7,420.7 L669.0,422.0 L666.7,422.5 L665.0,424.0 L663.5,422.6 L663.0,420.5 L661.5,421.5 L660.2,423.5 L660.5,425.0 L661.4,426.3 L661.5,429.0 L659.0,428.0 L656.0,427.6Z M720.5,391.5 L722.7,391.3 L724.5,390.5 L725.9,391.6 L727.0,392.5 L729.9,392.9 L732.0,393.5 L733.1,394.8 L734.5,397.0 L734.2,398.7 L734.0,401.0 L731.2,402.9 L729.5,404.0 L729.8,405.8 L730.0,407.5 L732.3,408.4 L734.0,408.5 L736.3,408.7 L739.0,410.5 L739.9,412.0 L742.0,413.0 L742.4,414.4 L744.0,416.5 L742.1,419.1 L740.0,420.0 L738.6,420.8 L737.0,422.5 L735.3,423.7 L734.0,425.0 L731.7,427.1 L729.9,428.1 L727.5,429.5 L728.7,430.5 L731.0,432.0 L734.2,431.4 L736.0,431.0 L737.6,432.6 L739.0,434.0 L740.9,435.6 L741.5,437.5 L743.1,437.7 L745.5,439.0 L746.4,440.4 L748.0,442.0 L747.9,443.3 L747.5,445.0 L745.9,446.4 L744.5,447.5 L742.6,448.5 L741.0,449.0 L738.8,450.3 L737.5,451.0 L737.6,452.7 L736.5,454.0 L736.8,456.0 L737.0,457.5 L735.0,457.5 L734.2,456.3 L734.5,454.0 L732.5,454.6 L731.0,454.5 L727.6,453.9 L725.5,454.5 L724.5,452.0 L721.4,451.3 L719.0,451.0 L717.3,451.6 L714.5,451.5 L713.5,452.0 L713.0,450.0 L712.0,447.0 L711.5,445.0 L711.5,443.1 L710.7,440.2 L711.0,438.0 L710.3,435.8 L710.8,434.2 L710.5,432.0 L710.1,430.3 L710.4,428.4 L710.0,426.0 L711.4,424.0 L712.0,422.5 L713.1,421.4 L714.0,419.0 L715.5,417.8 L716.0,416.0 L717.0,414.0 L716.5,412.0 L716.0,410.3 L714.5,409.0 L713.4,407.1 L711.5,404.0 L712.0,401.5 L712.5,400.0 L714.0,398.7 L715.4,396.5 L717.0,395.5 L717.7,392.7 L719.0,391.0Z M810.8,386.2 L812.6,386.9 L814.2,386.7 L816.2,388.3 L816.7,390.8 L817.9,392.5 L818.8,394.6 L821.7,394.6 L822.1,392.5 L822.4,391.0 L823.8,390.0 L825.7,390.5 L826.7,391.2 L828.7,391.3 L830.0,392.5 L831.6,393.3 L833.3,394.2 L835.8,393.3 L836.9,393.4 L838.8,393.8 L840.9,395.5 L842.2,397.6 L843.3,398.8 L842.4,400.8 L840.8,402.5 L839.2,403.7 L838.3,405.8 L837.1,407.7 L835.4,408.3 L832.4,408.5 L829.6,408.4 L826.9,408.8 L825.0,408.3 L824.1,409.4 L822.5,410.0 L820.6,411.8 L819.2,415.0 L816.7,416.2 L815.4,414.2 L816.2,412.8 L817.5,411.2 L819.3,407.9 L819.6,405.8 L818.3,405.0 L816.8,405.8 L814.0,405.6 L812.1,406.2 L810.0,404.2 L809.6,401.7 L807.1,400.8 L806.7,398.3 L804.6,396.7 L806.6,396.2 L807.9,394.6 L809.6,393.3 L809.6,391.1 L809.2,389.2 L810.1,387.5Z M858.5,448.0 L860.6,447.1 L863.0,445.0 L864.5,445.2 L866.0,447.0 L868.3,448.4 L870.0,449.0 L872.2,450.6 L873.0,452.0 L873.9,453.8 L874.5,455.0 L873.9,456.8 L873.0,459.0 L872.1,462.0 L871.0,464.0 L870.0,462.8 L868.0,462.5 L866.5,461.3 L866.0,459.5 L864.4,459.4 L862.0,459.0 L859.8,458.2 L857.0,458.0 L857.9,456.3 L859.0,455.5 L859.5,453.4 L859.0,452.0 L858.7,449.9Z M758.5,506.5 L761.1,505.3 L763.0,504.0 L765.5,503.6 L767.0,503.5 L766.8,501.4 L767.5,499.5 L768.9,498.1 L771.0,497.5 L772.2,496.5 L774.5,496.0 L776.8,497.1 L778.0,498.0 L780.0,497.4 L783.0,498.0 L784.9,499.7 L786.5,501.0 L787.5,502.8 L788.5,504.5 L789.7,506.5 L791.0,508.0 L791.9,509.6 L794.0,511.0 L794.1,513.5 L795.0,515.5 L793.6,515.1 L791.5,514.0 L790.1,514.6 L788.0,516.5 L785.9,516.8 L785.0,518.0 L784.6,519.8 L784.5,521.5 L782.4,522.2 L781.0,522.0 L780.2,519.8 L779.0,519.0 L776.7,518.4 L775.0,517.0 L773.1,515.6 L771.0,515.5 L769.0,514.5 L767.7,514.6 L766.0,515.5 L764.3,515.8 L761.5,515.9 L759.5,515.5 L759.6,512.6 L759.0,511.0 L759.3,509.1Z M879.2,574.2 L881.7,575.8 L883.3,578.3 L885.8,578.3 L886.7,580.8 L888.7,580.1 L890.0,578.8 L891.2,580.3 L893.3,581.7 L894.1,583.0 L895.0,584.2 L894.8,585.7 L894.6,588.3 L893.4,590.5 L892.1,591.7 L890.2,591.0 L887.5,591.7 L885.8,590.8 L884.6,592.6 L884.2,593.8 L882.3,593.8 L880.8,593.3 L879.5,594.5 L877.5,595.8 L875.9,597.1 L875.0,598.8 L874.3,597.7 L872.5,597.1 L872.6,595.9 L871.7,594.2 L869.2,593.3 L868.8,590.9 L869.2,588.3 L869.2,586.1 L868.3,584.2 L868.9,582.3 L869.6,580.8 L871.7,580.9 L873.3,581.7 L874.7,581.4 L875.8,580.0 L875.6,578.2 L876.7,576.7 L878.4,575.8Z" fill="#FEAC3A" stroke="none" shape-rendering="crispEdges"/>
<path d="M977.1,215.0 L979.3,214.6 L982.5,214.5 L983.9,214.6 L986.4,213.8 L989.2,214.2 L991.5,214.3 L994.6,213.3 L996.7,213.8 L998.6,212.6 L999.2,211.2 L1000.0,209.9 L1000.0,208.3 L1002.1,207.7 L1003.3,206.2 L1005.1,205.8 L1008.3,205.4 L1011.4,204.5 L1013.5,204.3 L1015.8,204.2 L1018.8,203.9 L1020.8,204.2 L1021.5,202.4 L1023.3,200.0 L1026.2,199.4 L1027.9,199.2 L1028.8,201.7 L1030.0,202.5 L1030.8,204.2 L1031.1,206.8 L1030.6,208.2 L1030.0,210.8 L1031.3,211.9 L1032.5,212.9 L1035.0,213.3 L1033.9,214.4 L1033.3,216.7 L1031.4,216.6 L1030.0,217.5 L1028.9,218.5 L1027.5,219.2 L1024.8,219.6 L1023.3,220.0 L1020.7,221.4 L1019.2,221.7 L1021.5,223.2 L1023.6,225.4 L1024.4,226.8 L1026.5,228.7 L1028.8,230.4 L1027.1,230.5 L1024.2,230.0 L1021.9,230.0 L1020.8,229.2 L1018.4,229.7 L1016.7,230.8 L1015.8,228.3 L1013.4,228.0 L1010.8,227.9 L1009.2,230.0 L1007.5,230.4 L1005.2,231.0 L1002.5,233.3 L1001.2,234.2 L1000.0,236.7 L999.8,238.1 L998.3,239.2 L994.9,239.8 L992.5,240.4 L993.6,241.7 L995.4,243.3 L995.1,245.2 L995.8,246.7 L994.3,247.6 L991.0,247.4 L989.2,247.9 L987.8,249.3 L985.8,252.1 L984.2,250.0 L984.2,247.0 L984.2,244.2 L981.0,243.4 L979.2,243.8 L979.0,241.5 L977.9,239.2 L976.4,238.9 L974.2,238.3 L972.9,240.8 L971.5,240.7 L969.2,240.4 L971.0,238.6 L972.1,236.7 L972.0,235.1 L972.5,232.5 L975.0,231.7 L974.4,229.3 L974.2,226.7 L974.2,225.0 L975.0,222.5 L976.2,221.1 L976.7,219.2 L976.4,217.6Z M570.4,432.1 L571.3,430.2 L574.2,427.5 L576.4,426.9 L579.6,427.3 L581.7,427.1 L582.5,425.8 L583.7,426.7 L585.8,426.2 L586.4,427.2 L587.5,428.8 L589.7,429.5 L591.7,429.2 L593.0,430.5 L593.3,432.1 L594.2,433.9 L595.0,435.0 L595.9,437.5 L596.7,440.0 L598.3,439.4 L600.0,438.3 L602.9,438.3 L604.2,440.6 L604.2,442.5 L603.8,444.8 L602.1,446.7 L601.8,448.6 L601.7,450.0 L601.2,451.9 L599.6,453.3 L598.3,455.0 L596.7,454.4 L595.0,452.5 L593.5,450.5 L591.7,450.0 L589.6,448.8 L588.3,447.5 L586.3,445.8 L585.0,444.2 L582.1,443.7 L580.8,442.5 L578.9,442.4 L577.5,441.2 L576.5,440.3 L575.0,438.8 L574.9,437.4 L573.3,435.8 L572.2,433.7Z M769.0,440.0 L771.3,439.7 L773.0,439.8 L775.9,440.0 L777.3,440.6 L780.0,441.8 L782.5,442.6 L784.4,443.0 L786.8,443.8 L790.0,443.8 L789.9,445.3 L790.5,448.0 L790.0,450.5 L790.5,453.0 L790.5,455.0 L791.0,457.5 L788.1,458.7 L786.0,459.0 L783.9,460.7 L782.0,461.5 L781.7,459.9 L781.4,456.7 L781.5,455.0 L784.7,453.9 L786.5,452.5 L786.3,450.6 L786.5,449.5 L783.7,449.4 L782.1,448.7 L779.0,449.0 L778.4,447.2 L778.0,445.5 L776.0,445.5 L774.5,448.0 L773.6,449.7 L774.0,451.5 L772.4,451.0 L769.5,451.0 L768.6,449.3 L768.0,447.0 L768.1,445.5 L768.5,443.0 L768.6,441.2Z M853.3,579.6 L855.0,577.2 L856.7,576.7 L858.5,574.7 L860.0,572.5 L861.7,570.5 L862.1,568.3 L862.6,566.0 L862.2,564.0 L862.5,562.1 L864.4,562.5 L867.5,562.5 L869.9,560.7 L871.7,560.0 L874.3,560.2 L875.8,559.6 L876.2,557.1 L878.0,557.7 L879.2,559.2 L881.6,558.5 L883.3,559.2 L885.4,557.9 L887.5,558.3 L887.9,559.8 L888.8,561.2 L892.2,561.2 L894.2,560.8 L894.0,562.6 L893.8,564.2 L891.8,564.9 L890.0,565.4 L887.5,566.7 L887.9,569.2 L886.6,569.9 L884.2,570.4 L883.1,571.4 L881.7,572.5 L880.1,573.5 L879.2,574.2 L878.4,575.8 L876.7,576.7 L875.6,578.2 L875.8,580.0 L874.7,581.4 L873.3,581.7 L871.7,580.9 L869.6,580.8 L868.6,582.6 L867.5,583.3 L865.9,584.4 L864.2,584.6 L862.1,582.5 L860.2,582.7 L859.2,583.8 L857.5,585.0 L856.1,583.5 L855.4,582.5 L854.0,581.7Z" fill="#F68720" stroke="none" shape-rendering="crispEdges"/>
<path d="M798.1,433.8 L800.5,432.6 L802.2,431.6 L804.4,429.6 L806.9,428.8 L808.6,427.5 L810.0,427.2 L811.8,426.9 L814.6,426.3 L817.5,426.2 L817.9,428.1 L817.1,430.8 L816.9,433.8 L817.8,435.9 L818.8,437.5 L816.7,439.4 L814.4,441.2 L811.9,442.5 L809.0,443.5 L807.5,445.2 L805.3,445.4 L802.9,447.1 L800.0,448.1 L799.7,445.1 L800.9,443.2 L800.6,441.2 L799.4,439.1 L797.5,437.5 L797.6,435.5Z M823.3,504.2 L824.8,502.7 L825.4,501.2 L827.9,500.6 L829.2,500.0 L831.1,498.1 L832.9,497.1 L835.0,499.2 L836.4,500.0 L838.3,500.4 L840.3,501.0 L841.7,501.2 L844.2,500.0 L844.6,502.9 L846.7,505.0 L844.7,505.7 L842.9,506.7 L841.0,507.4 L839.2,507.5 L838.0,508.3 L836.7,509.2 L833.6,509.9 L831.7,511.2 L830.2,511.4 L828.3,512.9 L827.7,511.2 L825.4,509.6 L824.3,509.0 L822.9,507.5 L823.7,505.7Z" fill="#E1640E" stroke="none" shape-rendering="crispEdges"/>
<path d="M642.5,424.0 L644.5,424.2 L647.8,424.5 L650.7,423.7 L653.5,424.0 L653.7,425.1 L654.0,427.0 L656.0,427.6 L659.0,428.0 L660.9,429.2 L664.0,431.0 L667.3,432.4 L669.0,434.0 L671.0,434.9 L674.0,436.5 L675.9,437.0 L678.0,438.0 L678.0,441.3 L679.0,443.0 L678.9,444.9 L677.5,447.0 L675.5,449.0 L675.2,451.6 L676.0,453.0 L676.5,454.0 L678.0,455.5 L677.7,457.6 L677.5,461.0 L675.2,460.7 L671.9,461.4 L670.0,461.5 L667.7,461.3 L665.9,460.6 L663.0,461.0 L661.4,459.2 L660.0,458.0 L658.2,457.0 L657.0,456.0 L654.8,456.8 L652.9,455.9 L650.0,456.5 L647.8,454.8 L646.5,453.0 L646.4,450.3 L647.0,448.0 L646.8,445.3 L646.5,443.0 L645.0,442.1 L642.5,441.5 L640.6,440.3 L639.5,439.5 L639.6,437.4 L638.5,435.0 L640.1,432.8 L641.5,431.0 L641.0,429.5 L641.5,427.0 L642.1,425.5Z" fill="#C14702" stroke="none" shape-rendering="crispEdges"/>
<path d="M812.1,375.0 L814.2,374.2 L815.6,374.3 L817.5,375.8 L818.4,374.2 L819.2,373.3 L821.1,373.3 L824.2,372.9 L824.6,375.0 L824.5,377.1 L825.4,378.3 L826.5,380.2 L826.2,382.1 L824.6,383.8 L823.9,385.2 L823.3,386.7 L823.6,388.8 L823.8,390.0 L822.4,391.0 L822.1,392.5 L821.7,394.6 L818.8,394.6 L817.9,392.5 L816.7,390.8 L816.2,388.3 L814.2,386.7 L814.6,383.8 L813.3,381.2 L813.3,378.3 L812.3,376.7Z M824.6,364.2 L826.5,363.8 L827.9,364.2 L829.2,365.4 L830.8,364.2 L831.2,367.1 L831.7,368.3 L831.8,370.1 L830.8,371.7 L829.2,372.1 L827.9,370.0 L827.1,367.9 L825.4,366.7Z" fill="#933204" stroke="none" shape-rendering="crispEdges"/>
<path d="M822.1,486.7 L824.6,486.7 L826.2,485.0 L827.1,485.8 L826.9,488.3 L826.7,490.8 L825.6,492.8 L825.0,494.2 L826.5,496.2 L826.7,498.3 L825.4,500.8 L824.2,500.0 L823.4,498.3 L822.5,496.7 L820.7,497.1 L819.6,497.5 L818.6,495.0 L818.3,492.5 L818.3,490.8 L820.3,490.3 L821.7,489.6Z" fill="#662506" stroke="none" shape-rendering="crispEdges"/>
<path d="M824.2,463.3 L826.2,462.9 L829.2,461.2 L831.9,459.9 L834.2,460.0 L835.8,461.5 L836.7,462.5 L838.4,464.0 L839.2,465.4 L839.5,466.8 L841.2,468.3 L842.1,470.8 L840.8,472.9 L838.9,472.9 L837.2,474.6 L835.0,475.0 L833.0,473.9 L831.7,473.3 L830.9,471.6 L829.2,470.0 L828.0,468.2 L827.1,467.1 L825.4,465.4Z" fill="#d9d9d9" stroke="none"/>
<path d="M146.0,479.5 L148.3,478.6 L152.0,478.1 L153.7,478.3 L156.7,478.3 L160.0,477.5 L161.0,474.8 L161.9,472.2 L162.5,469.5 L164.0,467.5 L165.7,466.1 L166.6,462.8 L168.7,461.8 L170.0,459.0 L171.8,459.5 L175.0,459.2 L177.3,459.7 L179.8,459.2 L182.5,460.0 L185.7,460.1 L188.2,461.0 L190.1,462.2 L192.5,462.0 L195.3,460.8 L197.9,460.6 L200.0,460.0 L201.2,458.4 L203.0,456.4 L204.1,454.5 L206.0,453.0 L207.7,452.8 L210.1,453.2 L213.4,453.0 L215.0,453.0 L216.7,454.2 L217.5,456.4 L220.0,458.0 L222.6,458.7 L224.5,458.3 L227.1,458.1 L229.9,458.9 L232.4,458.6 L235.0,459.0 L237.9,457.4 L239.2,456.9 L242.6,455.5 L244.8,454.5 L247.5,454.0 L250.0,453.7 L251.8,452.3 L255.9,452.1 L257.5,451.0 L260.0,451.3 L261.1,452.8 L264.0,453.0 L265.8,451.8 L269.2,451.5 L271.1,449.7 L274.0,449.0 L274.7,447.6 L275.0,444.9 L276.0,443.0 L278.7,442.8 L282.3,441.2 L284.9,441.3 L288.3,441.2 L289.7,440.1 L293.1,439.1 L296.0,439.0 L298.1,438.4 L302.2,438.0 L304.9,437.8 L307.1,437.9 L309.5,436.3 L312.7,436.3 L315.0,436.0 L318.4,436.8 L319.6,437.8 L322.3,438.3 L325.0,440.0 L327.8,441.4 L329.2,443.0 L330.0,444.1 L332.5,446.0 M332.5,446.0 L334.6,445.4 L336.8,445.5 L340.2,444.6 L342.5,445.0 L343.2,443.4 L345.0,441.0 L347.9,441.3 L350.2,442.4 L352.3,442.4 L355.4,443.6 L357.5,444.5 L360.4,445.1 L362.5,445.0 L361.8,442.7 L362.7,439.7 L362.0,437.5 L359.7,435.4 L357.5,434.0 L357.7,430.9 L357.5,429.0 L360.2,427.5 L361.9,426.1 L364.1,425.0 L366.0,424.0 L365.4,421.6 L364.5,418.6 L364.0,416.0 L362.3,415.1 L359.7,413.5 L357.6,413.0 L354.3,410.6 L352.5,410.0 L353.0,408.0 L351.6,404.9 L352.4,402.3 L352.0,400.0 L349.4,398.4 L347.1,397.6 L345.0,396.0 L347.3,394.1 L350.2,394.0 L353.3,392.1 L355.0,391.0 L358.0,389.7 L360.2,390.0 L363.0,389.1 L365.3,388.9 L367.3,388.3 L370.0,387.5 L372.8,387.6 L375.8,386.0 L378.0,385.8 L380.2,384.7 L383.8,384.8 L386.0,384.0 M386.0,384.0 L385.5,382.2 L385.5,379.5 L387.2,378.4 L387.8,376.2 L390.0,375.0 L391.1,372.6 L391.3,370.0 L392.3,367.3 L393.0,365.0 L394.3,362.0 L393.9,360.7 L394.3,357.8 L395.2,354.9 L396.0,352.5 L399.1,352.1 L402.6,351.1 L403.8,351.0 L407.2,350.9 L410.5,350.5 L411.3,347.6 L412.9,346.5 L414.0,344.0 L416.1,342.6 L418.3,340.4 L418.9,339.1 L421.4,337.1 L422.5,335.0 L425.7,333.4 L428.1,332.8 L430.7,331.7 L432.1,330.6 L435.0,329.0 L437.3,331.1 L439.0,332.5 L440.7,330.3 L442.2,328.9 L444.0,328.0 L446.0,327.5 L447.8,326.9 L450.5,325.9 L452.5,325.0 L453.3,321.9 L454.0,320.0 L453.0,317.9 L452.5,315.8 L451.0,314.0 L453.1,312.6 L455.2,310.1 L457.5,308.0 L457.5,306.0 M332.5,446.0 L334.5,447.6 L336.1,447.9 L339.0,449.0 L338.4,451.0 L337.7,453.9 L337.5,457.5 L335.6,458.7 L334.0,461.0 L335.0,463.0 L336.9,466.2 L337.9,467.5 L340.0,470.0 L339.3,472.3 L340.6,474.9 L339.8,476.3 L340.0,479.0 L338.7,480.4 L338.0,483.6 L337.0,486.0 L339.0,488.6 L340.0,489.9 L341.8,492.3 L344.0,495.0 L345.4,497.5 L346.7,498.9 L350.0,501.0 L351.0,502.5 L353.4,502.8 L355.9,503.0 L358.1,503.8 L360.8,505.1 L364.0,505.0 L366.5,505.8 L369.2,506.5 L371.4,507.5 L373.8,509.4 L377.9,509.5 L380.0,511.0 L382.6,511.8 L386.4,512.0 L388.8,512.4 L391.4,513.5 L394.0,513.8 L397.5,514.0 L400.3,515.4 L402.2,515.0 L404.5,516.2 L407.5,517.5 L410.3,516.7 L414.0,516.9 L416.5,517.4 L419.0,517.0 L421.1,516.2 L424.0,516.1 L426.0,515.0 L428.0,515.5 L430.0,517.8 L432.6,520.0 L435.7,521.1 L437.5,522.5 L437.8,524.3 L439.2,527.2 L440.5,528.5 L441.0,531.0 L443.7,531.5 L446.0,532.1 L447.3,531.9 L450.0,532.5 L451.0,534.3 L454.0,536.0 L454.7,533.4 L455.3,531.5 L456.0,530.0 L458.3,531.7 L461.3,533.4 L464.0,534.0 L464.6,532.2 L464.6,529.3 L465.0,527.5 L467.1,527.2 L469.5,525.8 L472.1,525.1 L474.0,525.0 L474.6,522.4 L475.5,521.3 L475.7,518.8 L476.0,516.0 M386.0,384.0 L389.0,383.6 L390.7,383.0 L393.5,382.9 L396.4,381.8 L399.0,381.0 L400.3,382.6 L401.0,386.0 L403.7,385.9 L405.9,387.2 L408.8,387.5 L411.0,387.5 L413.6,388.1 L416.3,388.7 L418.2,388.9 L421.0,390.0 L422.8,392.2 L423.5,394.4 L425.0,397.5 L426.9,396.5 L429.9,396.8 L433.1,395.9 L435.0,396.0 L436.6,397.3 L439.7,397.7 L442.5,399.5 L444.2,398.2 L446.0,397.5 L448.0,399.1 L450.3,400.0 L452.3,400.7 L454.0,402.5 L456.4,401.2 L457.8,400.3 L461.1,400.3 L462.5,399.0 L463.9,397.3 L464.0,395.0 L465.5,394.2 L467.0,392.9 L469.5,392.5 L469.9,390.6 L469.1,387.1 L469.3,384.4 L469.5,382.0 L472.2,381.6 L474.4,380.9 L476.0,381.0 L478.9,382.1 L480.5,384.0 L482.5,384.9 L484.4,385.6 L486.3,387.1 L489.0,389.0 L490.6,387.3 L492.5,384.5 L494.4,386.0 L496.0,386.0 L497.8,384.7 L501.0,384.0 L503.1,384.6 L505.1,385.7 L507.5,387.5 L509.6,388.9 L511.0,390.5 L513.3,392.7 L515.0,395.0 L517.9,396.0 L519.4,397.1 L523.3,398.4 L525.0,400.0 L524.3,397.9 L522.5,396.0 L524.5,397.0 L527.1,397.1 L529.9,398.2 L532.2,398.6 L534.1,400.5 L537.5,401.0 L539.5,403.4 L541.0,405.0 L541.7,406.6 L544.2,408.3 L546.9,408.1 L550.0,408.3 L551.8,409.2 L554.0,411.1 L555.8,411.7 L557.4,411.8 L559.2,411.2 L560.2,413.2 L560.8,415.4 L562.3,417.2 L565.0,418.8 L566.3,419.9 L568.2,421.9 L570.4,422.9 L568.3,424.0 L566.7,425.8 L568.5,427.7 L568.7,429.5 L570.4,432.1 L571.6,433.5 L572.3,436.3 L573.3,438.3 L575.8,440.2 L577.5,441.2 L575.8,442.6 L575.0,445.0 L575.8,447.2 L575.4,448.8 L573.6,450.1 L571.7,450.0 L572.9,452.5 L572.9,455.0 L570.9,454.8 L568.3,455.0 L566.7,457.4 L565.8,458.8 L563.8,460.0 L565.4,462.5 L564.1,463.4 L563.3,465.4 L561.0,467.0 L559.2,468.0 L557.5,468.8 L557.9,471.8 L557.4,473.9 L557.5,475.8 L558.8,476.0 L560.8,476.7 L562.5,477.8 L563.3,479.6 L561.6,481.2 L558.8,482.9 L557.5,484.6 L555.7,485.0 L552.9,484.6 L551.5,484.0 L550.4,482.5 L547.1,482.1 L545.0,480.8 L542.6,479.6 L539.6,479.2 L537.5,480.0 L536.9,481.5 L536.2,483.3 L538.0,485.2 L539.2,487.5 L541.2,488.7 L542.1,489.9 L543.3,492.1 L544.2,494.2 L545.9,493.9 L548.3,493.8 L551.2,493.3 L551.2,495.6 L552.1,497.1 L554.2,498.3 L554.8,496.2 L555.8,495.4 L557.1,495.8 L557.5,498.3 L556.2,500.8 L554.2,502.1 M476.0,516.0 L476.2,514.2 L475.5,512.5 L475.0,510.0 L475.8,507.3 L477.9,504.7 L479.1,501.9 L480.0,500.0 L479.2,497.5 L478.4,494.8 L477.5,492.1 L476.0,490.0 L478.6,488.5 L480.9,486.3 L482.6,484.6 L485.0,482.5 L487.2,482.7 L489.2,483.4 L491.4,484.9 L494.0,485.0 L495.1,487.5 L496.5,490.8 L497.7,492.5 L499.2,495.2 L500.0,497.5 L501.0,499.1 L502.5,500.7 L503.8,502.6 L505.0,505.0 L506.4,506.3 L510.2,507.3 L512.0,508.8 L514.0,510.0 L515.8,509.0 L518.3,507.6 L520.0,506.7 L521.1,508.3 L523.0,509.6 L525.0,510.8 L526.2,513.3 L528.1,513.3 L529.2,512.9 L530.3,513.9 L531.7,515.0 L532.9,516.8 L534.2,517.1 L535.4,514.6 L537.3,514.9 L539.2,515.0 L541.9,514.9 L543.8,514.2 L545.0,511.7 L544.9,510.1 L543.8,507.9 L543.1,505.7 L542.5,504.2 L544.2,502.5 L546.6,502.5 L548.3,503.3 L550.8,504.9 L552.5,505.4 L552.6,503.7 L554.2,502.1 M554.2,502.1 L554.6,503.6 L555.8,505.0 L556.8,503.7 L559.2,503.3 L562.1,503.3 L562.5,500.8 L564.8,499.6 L566.7,499.2 L567.9,497.5 L566.8,496.5 L565.4,495.0 L564.8,493.2 L563.8,491.2 L562.4,490.0 L561.7,487.5 L563.1,487.8 L565.4,487.1 L567.2,486.5 L569.2,485.0 L570.5,484.0 L572.1,482.1 L573.7,481.9 L575.4,480.4 L577.0,481.8 L578.3,483.3 L578.4,485.6 L579.2,486.7 L579.9,488.6 L579.6,491.2 L582.5,492.1 L585.0,492.1 L587.5,493.3 L589.4,493.5 L590.8,493.8 L593.4,492.9 L595.4,493.3 L596.0,494.5 L597.5,495.8 L598.2,497.5 L598.8,498.8 L600.5,500.0 L602.1,500.8 L600.8,503.3 L601.0,505.3 L602.1,507.5 L599.6,508.3 L599.6,511.2 L601.4,512.0 L603.3,512.9 L605.0,514.5 L607.1,515.0 L609.5,514.5 L610.8,515.0 L612.5,515.4 L615.0,515.4 L617.7,514.6 L620.0,513.8 L622.2,512.2 M472.5,307.5 L473.6,309.7 L474.7,313.1 L476.1,315.4 L477.2,317.2 L479.0,320.0 L480.2,322.0 L481.3,325.2 L483.7,328.1 L484.5,330.0 L482.3,331.3 L481.6,333.1 L479.5,334.5 L480.8,336.8 L483.1,338.5 L485.4,339.6 L487.5,342.5 L490.4,343.8 L492.5,345.0 L493.0,348.1 L493.4,350.1 L494.0,352.5 L495.7,351.0 L497.0,349.7 L499.0,349.0 L502.1,348.3 L504.1,348.1 L507.2,347.6 L510.0,347.5 L512.9,346.6 L515.1,346.4 L516.3,346.0 L519.0,345.5 L520.4,346.3 L523.2,346.6 L525.0,347.0 L526.1,348.9 L527.0,351.0 L526.3,352.9 L525.7,355.4 L524.5,357.8 L524.5,360.0 L523.0,362.2 L520.3,363.8 L519.0,365.0 L517.1,365.5 L514.6,366.0 L512.5,367.0 L515.2,367.7 L516.3,367.2 L519.0,367.5 L520.6,368.7 L523.4,370.9 L525.7,371.8 L527.5,372.5 L529.4,374.1 L532.8,375.6 L535.2,376.7 L537.5,377.5 L538.2,379.4 L538.4,382.4 L539.0,384.0 L540.8,384.9 L543.6,387.7 L545.9,388.7 L548.2,390.3 L550.0,390.3 L552.5,392.5 L553.8,391.2 L555.9,390.4 L558.3,388.4 L560.0,387.5 L558.8,386.5 L556.7,384.4 L555.0,384.0 L558.6,383.2 L561.3,381.6 L563.0,380.3 L566.0,379.5 L568.5,379.9 L570.0,380.9 L571.9,381.8 L575.0,382.0 L577.6,381.2 L580.4,380.0 L583.2,378.3 L585.0,377.0 L588.2,377.1 L589.9,376.7 L592.4,375.9 L595.0,376.0 L595.7,378.4 L596.9,380.7 L597.6,383.3 L598.0,385.0 L596.8,387.0 L594.8,388.4 L592.5,390.5 L591.7,391.5 L590.0,394.0 L587.9,396.0 L586.6,398.0 L585.0,399.0 L585.0,402.0 L584.8,405.0 L584.0,407.5 L587.1,408.7 L589.7,410.6 L591.6,411.9 L594.0,414.0 L596.4,415.5 L599.2,416.8 M599.2,416.8 L601.7,416.1 L604.2,415.7 L605.8,415.0 L608.9,414.7 L610.8,414.4 L613.3,414.2 L615.6,413.2 L618.3,411.2 L620.0,411.5 L621.8,411.3 L623.5,411.0 L625.6,409.6 L627.0,408.5 L627.1,406.3 L627.4,403.8 L627.5,402.0 L627.8,399.0 L628.5,397.0 L628.2,394.6 L629.0,393.2 L628.5,391.0 L630.1,388.2 L630.7,385.4 L632.0,384.0 L634.4,381.7 L635.0,379.5 L637.1,378.3 L640.5,377.5 L642.8,377.5 L645.0,377.5 L645.5,379.5 L646.0,381.5 L646.7,382.6 L647.5,384.5 L646.3,387.0 L645.4,388.1 L644.0,390.0 L643.7,392.4 L643.0,393.8 L641.5,396.0 L640.8,397.5 L639.5,399.5 L641.1,399.6 L642.7,401.1 L645.0,402.0 L646.9,401.7 L649.4,403.2 L652.0,403.0 L654.6,405.0 L657.0,405.5 L658.4,407.1 L661.0,408.5 L659.0,410.0 L656.8,411.2 L655.0,413.0 L653.6,415.1 L653.5,417.0 L654.0,419.4 L654.1,421.5 L653.5,424.0 M653.5,424.0 L650.7,423.7 L647.8,424.5 L644.5,424.2 L642.5,424.0 L642.1,425.5 L641.5,427.0 L641.0,429.5 L641.5,431.0 L640.1,432.8 L638.5,435.0 L639.6,437.4 L639.5,439.5 L640.6,440.3 L642.5,441.5 L645.0,442.1 L646.5,443.0 L646.8,445.3 L647.0,448.0 L646.4,450.3 L646.5,453.0 L644.3,452.5 L641.7,452.4 L639.0,452.0 L639.4,454.1 L638.5,457.0 L639.1,458.8 L639.0,461.0 L636.5,461.5 L634.5,459.9 L634.0,458.5 L631.8,457.2 L630.0,456.0 L628.8,454.1 L626.0,452.0 L624.2,451.9 L623.0,451.0 L621.6,449.9 L620.0,450.0 L618.8,449.2 L618.5,447.2 L618.3,445.4 L620.5,444.5 L621.7,443.3 L621.4,440.5 L620.0,438.3 L618.7,436.9 L617.4,434.2 L616.7,432.9 L617.8,430.6 L618.3,429.2 L616.3,427.0 L614.2,426.9 L612.5,425.0 L611.0,424.0 L609.2,421.7 L607.7,420.2 L606.7,418.8 L605.0,418.1 L602.5,417.1 L601.0,417.2 L599.2,416.8 M653.5,424.0 L653.7,425.1 L654.0,427.0 L656.0,427.6 L659.0,428.0 L660.9,429.2 L664.0,431.0 L667.3,432.4 L669.0,434.0 L671.0,434.9 L674.0,436.5 L675.9,437.0 L678.0,438.0 L678.0,441.3 L679.0,443.0 L678.9,444.9 L677.5,447.0 L675.5,449.0 L675.2,451.6 L676.0,453.0 L676.5,454.0 L678.0,455.5 L677.7,457.6 L677.5,461.0 L675.2,460.7 L671.9,461.4 L670.0,461.5 L667.7,461.3 L665.9,460.6 L663.0,461.0 L661.0,462.5 L662.0,465.0 L663.5,467.0 L660.4,467.0 L658.0,468.0 L656.2,469.0 L654.3,468.3 L652.0,469.5 L650.2,468.1 L649.0,467.0 L648.1,465.4 L646.0,464.5 L644.0,464.5 L640.5,465.0 L640.9,467.2 L640.0,470.0 L639.3,472.4 L638.0,474.0 L636.5,476.0 L638.5,477.8 L639.5,479.0 L641.0,480.3 L643.0,481.5 L641.7,482.4 L640.0,483.0 L641.5,485.0 L640.8,487.2 L641.0,489.7 L639.8,493.1 L639.6,495.7 L637.7,496.1 L634.2,496.6 L631.7,495.8 L629.5,496.6 L628.4,498.6 L626.8,501.2 L627.8,502.9 L628.7,506.9 L629.5,508.5 L627.0,510.4 L625.1,511.3 L622.2,512.2 M622.2,512.2 L625.1,511.7 L626.9,510.5 L629.5,510.3 L632.8,511.3 L634.1,511.9 L636.8,511.2 L639.8,512.7 L642.0,512.2 L644.7,513.4 L647.8,514.0 L649.2,515.2 L651.0,516.4 L653.3,517.7 L655.3,518.3 L659.1,520.2 L661.2,521.4 L663.4,522.2 L666.2,523.2 L669.3,523.0 L670.5,523.6 L673.5,523.2 M673.5,523.2 L673.6,525.1 L672.2,527.9 L671.7,529.6 L673.6,531.3 L675.3,534.2 L673.2,537.3 L671.9,539.3 L670.6,540.9 L668.0,543.3 L666.8,546.2 L664.1,548.5 L663.4,550.7 L661.5,551.5 L658.8,552.4 L657.0,552.5 L655.9,555.1 L655.7,557.4 L654.0,559.9 L653.3,563.5 L651.1,565.2 L649.9,566.5 L647.8,568.1 L644.6,566.9 L642.6,564.8 L640.5,563.5 L637.7,564.3 L635.0,564.4 L632.2,563.3 L630.5,562.3 L627.7,560.8 L626.7,561.9 L624.1,563.6 L623.0,565.3 L623.3,567.6 L623.7,569.7 L624.0,572.7 L621.8,574.3 L620.3,576.6 L619.0,579.0 L619.8,581.4 L621.0,582.8 L622.5,585.0 L624.9,585.9 L626.3,587.2 L628.4,588.1 L630.0,590.0 L632.1,592.1 L633.5,593.1 L635.0,595.0 M673.5,523.2 L676.0,524.1 L678.3,525.1 L679.7,526.2 L682.2,527.5 L684.5,528.7 L686.3,529.8 L688.6,532.0 L690.0,533.2 L692.9,532.8 L694.6,533.2 M694.6,533.2 L696.1,534.2 L697.8,535.5 L699.2,537.8 L701.2,539.1 L703.3,539.5 L704.7,540.6 L704.9,543.8 L705.6,545.0 L704.8,548.7 L705.6,550.7 L702.6,551.5 L700.7,552.1 L697.3,553.4 L695.4,554.0 L693.2,556.2 L691.5,557.2 L690.0,558.9 L687.7,557.6 L684.2,556.4 L681.8,556.2 L679.0,557.3 L677.3,558.3 L674.4,559.8 L674.6,562.0 L674.2,564.0 L675.0,566.1 L675.3,569.0 L676.7,572.1 L677.8,572.9 L679.0,576.3 L681.7,577.9 L683.5,579.0 L687.1,579.2 L690.0,581.0 M694.6,533.2 L694.4,529.7 L694.7,527.2 L693.4,525.3 L693.4,521.5 L693.7,519.5 L695.8,517.6 L697.3,515.8 L700.4,515.5 L703.4,513.8 L705.6,514.0 L704.3,511.7 L703.1,509.3 L701.0,506.7 L697.3,506.0 L695.3,504.5 L692.8,503.9 L695.4,503.6 L697.3,503.0 L699.7,503.2 L702.6,502.9 L705.5,503.9 L709.0,504.0 L710.9,503.2 L713.0,503.0 L714.5,503.3 L717.0,504.0 L718.3,503.7 L720.5,503.0 M707.0,474.0 L708.5,476.1 L710.0,479.0 L711.8,482.1 L713.0,484.0 L713.6,486.4 L713.0,489.0 L715.6,490.3 L717.0,492.0 L718.7,493.2 L720.5,496.0 L719.9,498.5 L720.6,500.8 L720.5,503.0 M724.0,373.5 L724.3,375.7 L724.5,377.5 L723.7,379.7 L722.7,381.1 L722.0,383.0 L720.5,385.0 L719.5,386.0 L719.9,388.4 L719.0,391.0 L717.7,392.7 L717.0,395.5 L715.4,396.5 L714.0,398.7 L712.5,400.0 L712.0,401.5 L711.5,404.0 L713.4,407.1 L714.5,409.0 L716.0,410.3 L716.5,412.0 L717.0,414.0 L716.0,416.0 L715.5,417.8 L714.0,419.0 L713.1,421.4 L712.0,422.5 L711.4,424.0 L710.0,426.0 L710.4,428.4 L710.1,430.3 L710.5,432.0 L710.8,434.2 L710.3,435.8 L711.0,438.0 L710.7,440.2 L711.5,443.1 L711.5,445.0 L712.0,447.0 L713.0,450.0 L713.5,452.0 L712.2,453.6 L711.5,457.0 L710.0,459.9 L709.0,462.0 L708.6,464.4 L707.9,466.4 L706.5,468.0 L706.1,470.6 L707.0,473.0 M661.0,409.0 L663.3,409.5 L666.5,409.5 L667.3,411.5 L668.0,412.5 L670.4,412.1 L671.8,411.9 L674.0,412.0 L676.6,412.1 L677.8,411.3 L680.0,411.5 L680.4,410.0 L679.8,406.5 L680.5,405.0 L682.5,403.5 L685.0,404.0 L683.7,401.9 L683.5,400.0 L684.4,398.2 L686.0,396.0 L687.8,393.7 L690.0,392.0 L691.9,390.4 L693.4,387.9 L696.0,386.0 L697.2,384.1 L699.0,382.1 L701.0,381.0 L703.3,380.1 L705.0,378.5 L704.9,376.9 L705.0,375.5 L706.2,376.1 L708.0,377.5 L709.8,377.7 L712.0,378.5 L714.5,376.9 L716.0,375.5 L718.1,375.4 L720.0,374.0 L722.7,374.3 L724.0,373.5 M724.0,373.5 L727.3,372.4 L729.0,371.0 L730.8,371.3 L733.5,372.5 L736.0,373.0 L736.3,371.2 L738.1,368.7 L739.0,367.0 L740.2,364.9 L742.0,362.0 L743.6,361.6 L744.5,360.0 L745.0,358.1 L747.6,359.7 L748.3,360.3 L751.2,361.2 L753.1,360.2 L754.4,357.5 L757.1,358.1 L758.5,357.9 L761.2,358.1 L764.1,357.1 L765.3,356.3 L768.1,355.0 L770.7,354.1 L773.8,353.8 L774.6,351.4 L776.2,350.0 M776.2,350.0 L777.3,351.8 L778.8,355.0 L781.3,356.0 L783.1,358.1 L780.9,359.1 L777.7,360.6 L775.6,361.8 L773.0,364.0 L774.5,364.6 L776.0,366.5 L778.6,366.6 L780.5,367.0 L781.1,368.9 L781.5,371.0 L782.4,372.0 L784.0,373.5 L782.6,375.6 L781.5,377.5 L781.4,379.4 L780.5,381.5 L778.3,382.4 L775.7,382.2 L774.0,383.0 L772.6,384.2 L771.0,386.0 L771.0,388.7 L770.0,390.0 L769.2,391.7 L767.6,392.7 L766.0,394.5 L766.5,396.8 L766.0,398.5 L767.8,399.6 L770.0,402.0 L771.1,403.4 L772.5,406.0 L774.0,408.3 L774.5,410.0 L775.6,411.1 L776.5,412.5 L774.9,414.9 L774.5,417.0 L772.4,420.0 L772.0,422.0 L771.3,424.6 L769.5,426.5 L769.1,428.4 L768.0,430.5 L766.3,431.1 L764.5,432.0 L765.0,433.5 L766.0,436.0 L767.4,437.4 L769.0,439.5 M707.0,473.0 L708.7,473.0 L711.5,473.7 L713.0,474.5 L716.0,474.5 L718.0,474.0 L720.1,473.6 L722.1,472.3 L724.0,471.5 L726.2,470.7 L728.5,469.2 L730.0,468.5 L732.0,466.7 L734.9,465.8 L737.0,464.5 L739.0,462.5 L740.9,461.9 L744.0,462.5 L747.0,462.0 L749.9,462.4 L752.0,462.0 L753.6,460.6 L756.1,460.2 L758.0,459.0 L760.2,457.6 L762.0,455.5 L764.2,454.0 L766.0,452.5 L766.4,450.7 L768.0,449.0 L767.3,447.0 L767.5,444.0 L768.0,441.1 L769.0,439.5 M776.2,350.0 L776.1,348.1 L774.3,345.3 L773.8,343.8 L772.3,342.8 L770.6,341.9 L771.8,339.9 L773.8,338.1 L773.5,336.4 L772.5,334.4 L774.5,333.5 L777.5,333.1 L777.3,331.2 L778.9,329.5 L778.8,326.9 L780.5,325.1 L781.2,323.6 L783.1,321.9 L784.6,321.3 L787.9,321.1 L789.4,320.6 L790.0,323.6 L789.9,325.3 L790.4,327.6 L790.6,330.6 L792.7,331.2 L794.7,330.9 L796.9,331.9 L798.8,329.7 L800.7,329.5 L802.5,327.5 L804.1,327.0 L807.0,326.4 L808.8,325.0 L809.6,326.5 L810.6,328.1 L811.8,326.4 L812.7,325.1 L815.0,323.8 L817.8,324.0 L820.0,325.0 L822.9,323.9 L825.0,323.1 L824.7,321.6 L825.0,319.4 L825.9,317.4 L827.5,315.0 L829.4,314.2 L832.8,312.4 L835.6,311.9 L837.3,312.2 L840.2,311.8 L842.5,311.9 L844.4,314.2 L844.5,316.4 L846.2,318.1 L849.0,320.4 L850.0,322.0 L849.7,324.1 L850.9,326.3 L851.0,329.0 L851.7,331.0 L850.9,332.5 L851.7,335.0 L853.3,336.7 L855.7,336.8 L857.6,336.5 L860.0,337.1 L861.9,337.4 L865.0,338.3 L866.8,337.7 L868.8,337.5 L870.0,335.0 M870.0,335.0 L869.3,337.0 L867.9,338.8 L865.7,341.1 L863.3,342.5 L862.6,344.4 L861.7,346.7 L863.6,348.3 L865.0,350.4 L868.1,351.9 L870.0,352.5 L871.9,352.7 L874.2,353.8 L875.2,355.8 L875.8,359.2 L877.1,361.3 L878.8,363.3 L879.2,364.2 M870.0,335.0 L870.1,332.0 L870.0,330.0 L869.5,327.8 L868.9,324.4 L869.0,322.6 L869.0,320.0 L870.9,317.9 L872.5,316.0 L874.3,316.5 L877.0,319.2 L879.0,320.0 L879.8,322.0 L881.1,324.5 L882.0,327.1 L884.0,330.0 L886.5,328.4 L889.1,325.8 L891.3,324.4 L893.5,322.3 L895.5,321.1 L897.5,319.0 L900.0,318.3 L901.6,317.3 L904.2,315.0 L906.1,314.8 L908.3,313.3 L910.4,312.8 L914.2,312.9 L916.0,311.5 L916.7,309.6 L918.5,309.1 L921.6,308.9 L923.8,309.2 L924.5,308.1 L924.2,306.2 L926.1,306.1 L928.3,306.7 L930.8,307.5 L932.5,309.2 L934.9,308.2 L936.7,307.5 L938.5,305.8 L940.0,303.8 L942.0,303.8 L945.0,303.3 L947.5,301.7 L947.6,299.6 L947.5,297.5 L948.3,295.4 M948.3,295.4 L946.0,295.7 L944.2,295.0 L943.3,293.4 L941.7,292.1 L943.2,290.1 L945.4,288.3 L943.8,286.0 L943.1,283.7 L942.5,281.7 L940.6,279.6 L940.2,277.7 L939.2,275.8 L938.4,274.5 L937.9,272.5 L935.0,272.6 L933.3,273.8 L931.1,275.0 L930.0,276.2 L927.5,277.5 L925.4,278.4 L923.8,278.3 L924.2,276.6 L923.3,275.0 L922.2,273.1 L920.0,270.0 L918.6,267.4 L918.3,265.0 L919.5,261.6 L919.6,259.2 L921.5,257.7 L922.1,255.8 L919.9,253.6 L917.9,252.5 L916.9,251.2 L916.7,248.3 L913.5,247.9 L911.2,246.7 L912.4,244.8 L913.3,243.2 L914.6,241.7 L917.3,242.8 L919.2,243.3 L920.5,244.8 L922.5,245.4 L925.0,243.8 L926.8,246.2 L929.2,247.9 L931.7,247.9 L932.2,244.9 L932.8,242.6 L932.5,240.4 L934.0,240.3 L936.7,240.0 L938.0,238.4 L938.3,236.2 M937.0,236.0 L936.2,233.8 L936.0,230.5 L938.6,230.1 L941.2,229.3 L943.4,227.8 L945.0,227.3 L947.5,227.0 L946.8,224.3 L946.0,222.5 L943.6,224.4 L941.9,223.7 L939.6,225.6 L937.2,226.6 L935.0,227.5 L933.5,224.4 L931.6,223.2 L930.7,220.8 L929.1,218.8 L927.9,216.7 L926.0,214.0 L928.1,213.0 L930.5,210.4 L933.4,208.1 L935.5,207.8 L938.3,205.5 L940.2,204.8 L942.5,202.5 L944.9,200.2 L947.7,198.5 L949.6,196.6 L951.3,195.2 L954.5,193.4 L957.5,191.9 L959.0,190.0 L960.3,192.2 L960.2,195.1 L961.6,197.2 L962.5,199.0 L963.7,195.9 L964.3,194.2 L965.3,190.5 L966.1,187.5 L967.1,184.8 L967.5,182.5 L969.1,180.3 L971.5,177.8 L973.5,176.6 L975.0,174.0 L975.2,171.3 L975.1,169.5 L974.9,166.7 L975.1,163.3 L976.3,161.7 L976.0,159.0 L978.0,156.4 L978.9,155.2 L981.3,152.5 L983.3,150.6 L985.0,149.0 L986.5,145.9 L987.9,143.9 L988.9,143.0 L990.5,140.0 L988.3,138.1 L986.8,135.9 L985.9,135.4 L983.9,132.9 L982.5,131.0 L979.9,130.1 L978.6,128.1 L976.6,127.3 L974.0,126.0 L972.2,127.1 L968.9,128.4 L967.2,129.6 L965.0,130.4 L962.5,132.5 L959.3,132.3 L957.6,133.3 L954.5,133.0 L952.3,133.1 L950.0,134.0 L947.5,133.7 L944.5,132.9 L940.9,133.7 L938.3,132.9 L936.0,133.0 L934.3,130.1 L933.4,129.2 L932.5,125.4 L931.0,124.0 L930.9,122.4 L931.3,120.1 L930.0,117.9 L930.0,115.0 L927.5,113.8 L926.4,111.8 L924.0,111.3 L922.5,109.5 L919.5,110.6 L917.5,110.1 L915.1,111.1 L912.5,112.0 L910.0,110.8 L908.0,108.5 L906.8,107.7 L904.0,106.0 L905.7,103.7 L907.5,102.1 L910.3,101.4 L911.7,98.7 L914.0,97.5 L912.3,96.1 L911.0,94.2 L910.0,92.0 M937.0,236.0 L939.0,236.3 L943.0,236.0 L944.1,235.6 L947.9,235.1 L950.0,235.0 L951.6,235.2 L953.3,236.7 L952.8,239.2 L953.6,240.9 L953.0,243.4 L953.8,245.8 L955.3,247.9 L957.8,249.3 L960.1,251.5 L960.8,253.3 L963.3,254.2 L966.0,252.7 L967.8,252.6 L970.0,251.7 L971.6,252.8 L972.5,254.2 L974.7,254.8 L978.3,254.2 L980.0,252.1 L982.3,252.5 L984.2,252.1 L985.0,254.1 L984.6,255.8 L986.5,256.9 L989.2,258.8 L992.4,259.2 L994.2,258.8 L996.1,258.2 L998.3,257.1 L1000.3,257.9 L1002.5,258.3 L1005.0,259.2 L1006.7,260.0 L1008.0,262.3 L1009.6,263.3 L1007.5,265.0 L1008.4,267.9 L1008.8,270.4 L1011.6,270.7 L1013.3,270.0 L1014.7,271.0 L1017.5,271.7 L1016.7,274.2 L1017.8,276.7 L1018.4,278.6 L1020.0,280.0 L1021.0,280.5 L1023.0,279.7 L1026.0,280.0 L1025.7,277.5 L1026.7,275.8 L1029.3,273.6 L1031.2,272.1 L1033.5,272.9 L1034.2,274.2 L1035.2,276.7 L1035.6,279.8 L1036.0,282.5 L1037.0,285.0 L1039.4,288.1 L1041.1,289.3 L1042.5,292.0 L1044.2,290.2 L1047.3,288.1 L1049.0,286.0 L1051.7,286.2 L1054.1,285.3 L1057.5,283.8 L1060.0,284.0 L1062.2,284.8 L1065.0,285.0 L1065.8,283.2 L1067.0,282.5 L1068.1,284.3 L1068.7,287.7 L1070.0,290.0 L1072.1,291.3 L1074.1,291.8 L1077.4,292.2 L1079.6,292.4 L1081.4,293.5 L1084.5,294.0 M948.3,295.4 L950.4,293.3 L951.3,295.5 L951.7,296.7 L954.6,297.5 L956.5,298.3 L958.3,299.2 L959.2,300.9 L961.7,302.5 L960.0,304.2 L961.5,305.0 L962.5,306.2 L964.4,304.0 L965.7,302.5 L966.7,300.8 L969.2,300.8 L969.2,302.9 L969.6,305.0 L971.4,307.2 L972.1,310.5 L973.3,312.5 L974.3,314.4 L976.0,315.7 L976.7,318.3 L978.6,319.9 L980.4,321.7 L978.3,323.3 L976.7,325.0 L976.5,327.1 L977.5,330.0 L978.1,332.9 L979.0,335.0 L981.2,336.1 L984.0,338.3 L985.0,340.0 L985.0,342.4 L985.5,343.7 L985.0,346.0 M821.7,343.3 L823.3,344.5 L823.8,346.2 L825.3,347.0 L826.7,348.8 L827.1,350.8 L830.1,351.0 L832.5,350.8 L833.7,350.3 L835.8,350.4 L837.5,351.2 L836.0,352.1 L834.2,352.9 L832.1,353.8 L831.8,355.2 L832.5,357.5 L834.2,359.6 L836.7,360.0 L838.6,360.6 L839.2,361.7 L840.8,363.8 L842.1,365.0 L839.2,365.0 L837.9,367.1 L837.9,370.0 L840.0,372.1 L841.3,372.8 L843.3,373.3 L844.6,375.0 L844.2,376.7 L841.5,376.8 L840.0,376.7 L837.9,377.9 L840.0,377.9 L841.7,378.3 L843.5,378.6 L845.0,379.2 L845.0,381.7 L843.8,384.2 L843.3,387.1 L842.0,387.9 L840.8,389.2 L841.0,391.1 L840.0,392.5 L838.8,393.8 L836.9,393.4 L835.8,393.3 L833.3,394.2 L831.6,393.3 L830.0,392.5 L828.7,391.3 L826.7,391.2 L825.7,390.5 L823.8,390.0 L823.6,388.8 L823.3,386.7 L823.9,385.2 L824.6,383.8 L826.2,382.1 L826.5,380.2 L825.4,378.3 L825.1,376.2 L824.2,375.0 L824.6,372.5 L821.3,372.6 L819.2,373.3 L817.5,375.4 L815.8,375.1 L814.2,374.2 L812.1,374.6 L810.3,374.1 L807.9,372.9 L806.2,373.3 L805.0,374.2 L803.1,374.0 L802.1,372.9 L801.6,371.7 L800.8,370.0 L800.4,367.9 L799.6,365.4 L801.2,362.9 L803.6,361.2 L805.4,361.2 L807.4,360.7 L809.2,359.2 L807.9,357.1 L806.4,355.8 L805.4,355.4 L806.2,352.9 L809.0,351.9 L810.8,351.2 L812.8,350.4 L814.6,348.3 L816.4,347.8 L817.5,346.7 L818.8,344.2 L820.3,343.2 L821.7,343.3 M834.2,359.6 L833.0,360.3 L831.7,361.7 L830.8,364.2 L831.2,367.1 L831.7,368.3 L831.8,370.1 L830.8,371.7 L829.2,372.1 L827.5,371.8 L824.6,372.5 M843.3,398.8 L842.4,400.8 L840.8,402.5 L839.2,403.7 L838.3,405.8 L837.1,407.7 L835.4,408.3 L832.4,408.5 L829.6,408.4 L826.9,408.8 L825.0,408.3 L824.1,409.4 L822.5,410.0 L820.6,411.8 L819.2,415.0 L816.7,416.2 L815.3,416.6 L814.2,418.3 L812.0,419.7 L810.8,420.8 L809.3,422.2 L807.5,424.6 L806.7,426.3 L804.6,428.3 L802.4,429.3 L801.9,430.7 L799.6,432.1 L799.9,433.5 L798.8,435.0 L797.5,437.5 L799.4,439.1 L800.6,441.2 L800.9,443.2 L799.7,445.2 L800.0,448.1 L799.2,450.0 M768.0,440.0 L770.7,439.5 L773.0,439.5 L774.8,439.7 L777.4,440.5 L780.0,441.5 L783.2,441.5 L784.1,443.0 L787.2,442.8 L790.0,443.5 L792.2,443.4 L795.5,443.2 L798.0,442.5 L799.5,443.0 L800.1,444.7 L798.7,447.6 L799.2,450.0 M799.2,450.0 L799.6,451.8 L800.0,453.8 L798.8,455.7 L796.7,457.5 L795.1,458.5 L792.5,459.2 L791.0,461.3 L790.0,462.5 L788.9,464.2 L788.8,465.8 M788.8,465.8 L791.0,467.4 L792.5,467.5 L794.1,467.8 L796.7,469.2 L798.3,470.7 L800.0,472.5 L800.8,474.6 L803.4,475.4 L804.8,475.4 L807.5,475.0 L810.8,475.0 L813.3,475.0 L815.0,474.8 L816.7,473.8 L817.2,471.7 L817.1,470.0 L819.2,468.3 L822.0,468.0 L824.2,467.9 L826.7,468.8 L828.5,470.5 L829.2,472.5 L830.8,475.0 L830.9,476.7 L832.1,477.9 L833.4,477.4 L835.0,476.7 L836.6,477.3 L838.3,477.1 L840.1,476.1 L842.1,475.0 L843.9,475.0 L846.7,474.2 L849.2,475.8 L849.1,477.4 L850.0,479.2 L852.1,478.1 L853.3,477.5 L853.4,475.3 L854.2,474.2 L857.1,472.6 L859.2,472.1 L860.6,469.4 L862.1,467.9 L864.3,467.3 L865.2,465.7 L867.5,465.0 L869.3,464.1 L870.8,464.2 M802.5,485.8 L802.6,487.4 L802.1,490.0 L801.9,492.0 L802.5,494.6 L801.4,496.1 L799.2,496.7 L799.0,498.6 L797.9,500.8 L796.9,502.0 L797.1,503.8 L794.8,504.3 L792.7,505.2 L790.4,505.0 L790.8,507.5 L793.1,509.4 L795.0,510.0 L795.5,513.2 L795.4,515.8 L798.2,516.6 L799.2,517.8 L801.7,518.8 L803.1,517.8 L805.0,517.9 L806.8,516.8 L808.3,516.7 L808.9,519.0 L808.6,522.7 L808.8,525.0 L809.1,526.9 L808.9,530.0 L808.3,531.7 L807.0,532.7 L804.3,533.1 L802.5,534.2 L802.1,535.8 L799.8,537.8 L798.8,539.2 M802.5,485.8 L803.9,485.6 L805.8,485.0 L807.4,486.6 L809.2,487.5 L810.1,489.2 L811.4,490.9 L812.5,492.9 L815.0,492.6 L817.9,490.8 L819.8,490.5 L821.7,489.2 L821.6,487.6 L820.8,485.8 L820.9,484.3 L820.0,482.1 L818.4,481.9 L816.7,480.8 L815.0,480.5 L813.8,478.8 L813.9,477.4 L813.3,475.0 M816.7,473.8 L817.5,475.0 L819.7,476.4 L821.7,477.5 L824.2,478.5 L825.8,478.8 L826.7,480.6 L827.5,482.5 L828.6,484.1 L830.0,484.6 L831.7,484.7 L834.2,485.4 L836.0,486.3 L839.2,486.7 L840.6,487.3 L841.7,489.2 L841.8,490.9 L842.1,492.9 L844.3,492.5 L846.7,492.5 L849.2,492.9 L848.7,495.4 L847.9,496.7 L846.4,499.1 L845.8,500.8 L844.6,502.9 L846.4,503.4 L848.3,504.2 L849.6,503.8 L850.4,505.1 L850.4,507.5 L850.7,509.8 L852.5,512.9 L854.6,513.3 L857.1,513.3 L858.0,511.4 L859.2,510.0 L861.1,509.6 L862.1,508.3 L865.0,508.8 L865.9,510.2 L865.8,511.7 L867.9,512.9 L868.3,515.8 L866.8,517.4 L865.8,518.3 L864.5,517.4 L862.1,516.2 L859.2,516.1 L856.7,515.8 L856.0,517.2 L856.7,519.2 L857.4,520.4 L857.9,522.1 L856.8,522.9 L855.0,524.2 L853.5,525.3 L852.5,527.5 L853.4,528.7 L853.3,530.4 L854.7,532.3 L857.5,534.2 L859.5,534.5 L861.2,535.8 L861.5,538.6 L860.8,540.0 L858.8,541.7 L860.9,541.6 L863.3,542.9 L865.5,543.0 L868.0,543.1 L870.0,542.9 L872.3,544.6 L874.2,545.8 L875.8,545.0 M875.8,545.0 L877.0,544.8 L879.2,544.6 L881.2,546.9 L883.3,548.3 L885.1,548.7 L888.3,549.6 L889.8,550.5 L891.2,552.9 L892.5,551.8 L894.2,550.8 L895.0,549.1 L897.5,547.5 L898.8,545.3 L900.0,544.2 L901.7,541.9 L901.7,540.0 L903.7,539.4 L905.0,538.3 L906.7,537.1 M897.5,547.5 L898.6,549.8 L900.0,550.8 L902.3,551.9 L903.3,553.3 L904.3,553.9 L905.8,555.0 L903.2,556.6 L900.8,557.1 M875.8,545.0 L875.7,546.5 L875.2,548.6 L874.2,550.8 L873.1,552.3 L870.8,554.2 L869.6,554.9 L868.3,556.7 L868.7,558.5 L868.8,560.8 L867.5,562.5 L865.1,562.1 L862.5,561.7 L862.3,564.4 L862.2,565.8 L862.1,568.3 L861.3,570.3 L859.2,573.3 L856.7,574.7 L855.2,577.5 L853.3,578.3 L850.7,580.5 L849.2,581.7 M849.2,581.7 L846.3,579.6 L845.0,577.5 L842.0,577.5 L840.0,577.5 L838.5,575.6 L836.2,573.8 L834.2,571.8 L831.2,570.6 L829.9,572.6 L828.6,573.5 L827.5,575.6 L825.0,575.3 L821.9,576.2 L821.5,575.0 L822.5,573.1 L824.0,572.7 L826.2,571.2 L826.3,569.5 L825.0,568.1 L823.0,567.7 L820.0,568.8 L817.7,569.4 L814.5,572.0 L812.5,572.5 M798.5,539.0 L799.1,541.1 L801.0,543.0 L803.5,543.7 L804.3,545.3 L807.0,546.0 L809.6,546.8 L811.0,548.5 L809.3,550.3 L806.7,552.3 L806.0,554.0 L806.9,556.2 L808.1,557.8 L808.5,560.0 L809.7,561.7 L811.0,565.0 L811.5,567.5 L811.8,569.4 L812.5,571.0 M720.5,503.0 L721.4,504.9 L723.5,506.5 L725.2,508.4 L726.0,510.5 L727.5,512.7 L729.5,514.5 L731.2,515.1 L734.0,516.5 L735.9,517.8 L738.5,518.6 L740.0,519.5 L741.5,519.6 L743.0,521.0 L745.5,520.3 L748.0,520.5 L749.7,519.9 L752.6,520.8 L754.0,520.0 L756.4,519.5 L757.8,519.9 L760.0,519.5 L761.5,521.4 L762.5,522.5 L764.3,522.2 L766.0,520.5 L768.0,519.5 L770.0,519.0 L769.5,521.8 L769.0,524.0 L769.3,526.5 L770.0,528.0 L771.9,530.7 L773.5,532.0 L776.9,531.7 L779.0,531.5 L782.0,532.7 L784.0,533.5 L784.4,534.8 L785.0,537.0 L787.1,537.8 L790.0,538.0 L791.4,537.0 L794.0,537.0 L796.5,538.0 L798.5,539.0 M812.5,572.5 L810.1,572.0 L808.1,573.1 L805.0,573.1 L802.2,574.6 L800.0,575.0 L797.9,576.4 L795.6,577.3 L792.5,578.1 L789.4,579.3 L786.9,579.8 L785.0,581.2 L782.1,581.0 L779.4,581.8 L777.5,582.5 L776.8,584.3 L775.2,586.0 L773.3,587.5 M773.3,587.5 L771.3,585.5 L770.7,583.5 L769.2,581.7 L768.9,580.0 L766.9,577.4 L767.3,575.9 L765.8,573.3 L763.4,574.7 L762.4,576.1 L759.8,578.3 L758.3,579.2 L757.3,578.0 L755.4,575.9 L753.3,575.0 L750.6,575.5 L748.4,575.6 L745.2,576.4 L743.3,576.7 L740.8,574.7 L737.8,574.1 L736.2,573.2 L733.3,570.8 L729.8,570.3 L727.4,570.0 L725.5,569.3 L722.4,568.0 L719.5,567.3 L716.7,566.7 L714.3,567.4 L712.5,568.3 L711.1,569.5 L710.0,572.8 L708.3,574.2 L705.4,573.8 L702.5,572.9 L700.0,573.3 L697.8,574.1 L695.0,575.0 L692.9,577.6 L691.5,579.2 L690.0,581.0 M690.0,581.0 L689.9,583.1 L689.0,585.0 L689.6,586.8 L688.9,589.5 L689.6,593.0 L689.2,594.4 L689.0,597.5 M689.0,585.0 L686.6,582.7 L685.4,581.4 L682.5,580.0 L681.2,577.4 L679.0,575.6 L677.7,573.4 L676.0,571.0 L675.6,567.5 L674.9,566.2 L674.6,562.4 L675.0,560.0 L672.8,558.4 L671.9,557.7 L670.0,556.0 L667.4,557.7 L663.9,558.3 L662.0,560.0 L659.1,560.5 L657.2,559.8 L655.0,560.0 L652.9,560.9 L650.8,563.9 L649.7,564.8 L646.9,565.5 L645.0,567.5 L643.1,566.7 L640.4,564.9 L636.7,564.1 L634.9,563.9 L632.1,562.3 L630.0,561.0 L626.9,560.8 L625.0,560.0 L624.0,563.3 L623.0,565.4 L622.5,567.5 L623.3,569.9 L624.0,572.7 M619.0,615.0 L622.1,614.1 L625.2,613.8 L628.1,614.2 L630.7,613.9 L632.6,613.0 L636.0,612.5 L635.6,610.2 L635.0,607.5 L632.3,606.5 L630.6,605.7 L626.9,605.3 L625.0,605.0 L624.3,603.5 L625.1,601.2 L625.0,599.0 L627.1,598.5 L629.9,597.1 L632.0,595.9 L635.0,595.0 L636.7,597.3 L637.5,599.0 L639.9,596.7 L641.8,595.9 L644.5,594.4 L646.0,592.5 L648.4,592.6 L650.4,591.8 L653.2,590.8 L655.0,591.0 L656.0,589.4 L656.7,587.2 L657.5,585.0 L659.8,585.7 L662.1,586.2 L664.6,586.1 L667.5,587.5 L668.6,589.3 L671.6,591.4 L673.8,592.7 L675.0,594.0 L677.0,596.3 L678.4,598.5 L678.4,600.2 L680.0,602.5 L682.3,603.8 L684.2,603.8 L686.0,605.0 L687.9,602.0 L687.9,600.3 L689.0,597.5 M689.0,597.5 L688.6,599.7 L689.8,601.9 L689.1,605.2 L689.9,607.0 L690.0,610.0 L690.8,612.6 L690.5,614.7 L690.5,617.4 L691.0,619.0 L688.8,621.0 L687.6,621.6 L686.1,624.4 L683.7,625.9 L682.5,627.5 L684.7,627.6 L687.3,628.8 L690.7,628.7 L692.5,629.0 L693.5,631.3 L692.9,633.3 L694.0,635.0 L693.3,636.8 L691.7,638.9 L690.0,640.0 L690.1,642.0 L691.1,644.2 L691.9,647.0 L691.3,649.7 L692.5,652.5 M476.0,516.0 L477.6,516.4 L480.6,516.2 L483.0,516.5 L485.0,517.5 L487.1,519.1 L488.4,520.0 L490.3,522.7 L492.5,524.0 L493.9,525.8 L494.0,528.4 L494.9,531.6 L496.0,534.0 L498.4,535.8 L500.6,538.2 L502.0,540.0 L499.7,542.0 L498.0,544.0 L499.2,545.6 L501.3,547.6 L502.5,550.5 L504.0,552.5 L503.7,555.8 L504.4,558.9 L504.8,561.6 L504.8,564.5 L504.5,567.0 L505.0,570.0 L504.9,572.2 L505.7,575.1 L505.3,578.4 L505.2,582.4 L505.4,584.2 L506.0,587.5 M506.0,587.5 L503.9,588.5 L499.9,589.5 L497.5,590.0 L498.1,592.2 L498.8,595.2 L498.6,599.3 L499.0,600.8 L500.0,604.0 L497.1,604.5 L494.7,604.8 L492.5,606.0 L490.0,605.0 M506.0,587.5 L507.4,590.1 L506.9,592.1 L508.5,594.4 L509.2,598.1 L509.2,599.4 L509.7,602.0 L511.0,605.0 L511.6,602.5 L513.2,600.8 L514.6,597.8 L516.3,596.3 L517.5,593.0 L519.0,594.9 L520.7,597.1 L522.6,598.3 L524.0,601.0 L525.6,603.9 L526.0,606.8 L526.2,608.2 L527.3,611.6 L529.0,614.0 L531.1,613.3 L532.5,613.5 L535.0,612.5 L536.4,614.4 L537.5,617.0 L539.2,619.7 L540.3,621.7 L542.0,624.9 L542.5,627.0 L544.1,629.8 L544.3,631.3 L547.0,633.5 L548.1,635.2 L549.0,638.0 L549.9,640.5 L552.2,642.5 L553.9,644.3 L554.5,646.2 L556.0,649.0 L557.7,648.0 L560.7,647.0 L563.1,645.9 L565.8,645.0 L567.5,644.0 L570.9,643.7 L573.3,642.9 L576.0,642.0 L575.8,639.3 L575.0,635.7 L574.9,632.9 L574.8,631.1 L575.0,627.9 L575.8,625.8 L575.0,622.5 L576.4,621.0 L578.6,617.9 L579.5,617.1 L581.1,615.0 L583.2,613.1 L585.0,610.5 L586.6,607.4 L587.6,605.1 L589.2,602.6 L589.9,599.7 L591.0,597.5 L592.7,597.0 L594.9,597.4 L597.4,596.8 L600.0,597.0 L600.9,598.8 L600.5,602.4 L602.0,603.9 L602.6,605.9 L602.5,609.0 L604.4,609.9 L607.8,610.5 L610.0,611.0 L612.3,610.6 L614.5,609.4 L617.5,608.5 L617.3,610.7 L618.4,613.1 L619.0,615.0 M619.0,615.0 L617.8,617.3 L617.5,619.0 L616.3,620.6 L614.6,621.7 L612.0,622.5 L610.0,624.0 L608.0,623.1 L605.1,623.2 L602.2,621.1 L600.0,621.0 L597.2,621.7 L594.5,621.5 L592.5,622.5 L590.4,624.9 L588.9,626.7 L587.5,629.5 L588.7,632.4 L589.6,634.5 L590.7,637.3 L591.0,639.5 L594.3,639.1 L596.0,639.2 L599.9,638.1 L602.5,638.0 L603.5,640.1 L604.4,643.0 L606.0,645.0 L605.5,647.6 L603.7,650.4 L602.9,652.6 L602.7,654.6 L601.0,657.0 L603.4,659.6 L604.3,661.7 L605.2,664.5 L607.5,667.0 L607.2,669.9 L605.7,671.8 L605.0,675.0 M605.0,675.0 L605.2,676.7 L605.3,678.9 L605.0,681.0 L607.2,681.6 L610.6,682.7 L612.1,683.3 L615.0,684.0 L617.3,686.0 L618.2,688.3 L620.0,690.0 L623.4,690.0 L624.7,689.7 L627.8,689.7 L631.0,690.0 L631.9,692.2 L632.9,694.3 L634.0,696.0 L632.7,698.0 L630.2,699.1 L628.4,700.1 L626.6,701.8 L625.0,704.0 L624.1,705.5 L622.9,707.8 L622.5,710.0 M605.0,675.0 L607.7,674.2 L610.0,672.5 L611.7,671.7 L613.8,670.9 L616.0,671.0 L618.0,672.1 L620.5,673.8 L623.1,674.1 L625.9,675.9 L627.3,676.7 L630.0,677.5 L631.0,675.8 L634.1,673.1 L636.3,671.5 L637.5,670.0 L639.7,668.4 L642.8,668.4 L644.6,667.8 L647.5,666.0 L648.6,663.6 L649.6,661.5 L651.0,659.5 L652.4,661.0 L656.2,662.7 L658.5,664.7 L660.0,665.3 L662.5,667.5 L664.4,666.1 L666.8,664.3 L667.6,662.2 L670.0,661.0 L672.0,660.8 L675.1,659.9 L677.5,660.0 L679.2,658.3 L681.8,657.4 L683.8,656.3 L685.0,655.0 L687.5,654.9 L690.4,653.5 L692.5,652.5 M692.5,652.5 L694.1,651.2 L696.5,649.4 L698.5,648.5 L701.0,647.5 L702.4,648.5 L705.1,649.4 L707.5,650.0 L709.6,648.7 L711.1,645.9 L713.3,644.2 L717.1,643.7 L719.2,643.3 L721.5,643.7 L723.6,645.1 L725.0,645.8 L725.2,647.6 L727.3,650.4 L727.6,652.3 L728.3,654.2 L728.1,656.2 L726.5,657.5 L725.8,660.0 L724.0,661.4 L721.7,664.2 L721.9,666.6 L721.6,668.1 L720.8,670.8 L724.0,670.8 L726.1,670.4 L728.3,670.0 L729.1,671.7 L729.9,675.7 L730.0,677.5 L733.2,675.9 L736.0,675.0 L738.3,675.0 M738.3,675.0 L738.9,678.0 L739.5,679.7 L739.2,683.3 L737.9,685.9 L736.6,687.6 L735.8,690.0 L734.7,692.4 L733.9,693.9 L731.1,695.8 L730.0,698.3 L729.1,700.4 L727.5,702.9 L726.7,705.0 L727.0,707.7 L726.6,709.0 L727.5,711.7 L725.7,713.7 L723.6,715.7 L721.7,718.2 L720.0,719.2 L718.3,719.8 L716.0,720.0 L715.4,722.1 L716.0,724.0 L714.2,726.1 L714.0,728.0 L712.2,728.9 L709.0,729.0 L708.5,731.2 L709.0,733.0 L706.2,734.4 L704.8,734.7 L702.0,735.0 L700.9,736.6 L698.1,739.5 L697.5,741.5 M738.3,675.0 L739.2,672.6 L740.2,670.2 L741.7,668.3 L744.0,668.6 L747.0,667.7 L750.0,668.3 L752.0,671.3 L752.5,673.3 L754.4,672.4 L755.8,671.7 L755.9,669.6 L754.9,666.7 L754.2,665.0 L755.7,663.7 L758.4,661.7 L760.8,660.8 L763.1,662.7 L764.4,662.9 L766.7,664.2 L769.5,663.6 L771.0,664.1 L773.3,663.3 M773.3,587.5 L774.7,590.0 L775.9,593.2 L777.5,595.0 L777.9,597.7 L776.5,601.0 L776.7,603.3 L774.9,605.2 L771.9,607.6 L770.8,609.1 L769.2,611.7 L768.9,614.8 L768.2,617.0 L766.7,619.1 L766.7,620.8 L768.7,623.2 L769.7,624.6 L771.7,626.7 L771.5,629.3 L771.8,631.4 L772.3,633.9 L772.5,636.7 L774.4,638.0 L775.8,640.8 L775.0,644.0 L774.8,645.4 L774.2,648.3 L774.2,650.8 L773.1,654.2 L773.3,656.7 L773.3,659.4 L773.0,661.2 L773.3,663.3 M773.3,663.3 L775.6,662.8 L777.5,662.6 L780.5,662.5 L782.5,662.5 L784.2,663.1 L785.6,665.1 L787.5,666.7 L785.7,668.1 L785.1,670.2 L783.3,671.7 L780.9,673.7 L780.3,675.3 L778.3,677.5 L779.5,678.9 L780.8,680.8 L782.9,679.9 L785.9,680.1 L788.2,679.1 L790.0,678.3 L792.3,678.1 L794.5,677.6 L796.9,676.8 L800.0,675.8 L802.1,677.0 L804.1,678.6 L805.8,680.0 L805.9,677.5 L806.2,676.1 L806.7,673.3 M806.7,673.3 L809.3,673.6 L811.9,673.3 L813.8,674.5 L816.7,674.2 L820.0,675.9 L821.8,677.5 L824.2,678.3 L824.4,680.7 L825.1,682.4 L826.0,686.0 L826.6,687.7 L827.5,690.0 L829.1,693.0 L829.8,694.1 L830.7,697.9 L831.7,700.0 M806.7,673.3 L806.7,671.0 L807.6,668.8 L809.1,665.5 L810.0,663.3 L810.5,660.1 L810.8,657.8 L812.3,656.0 L812.5,653.3 L814.3,651.8 L814.8,648.8 L817.1,647.4 L817.6,644.5 L819.2,643.3 L819.6,640.8 L819.4,638.1 L820.6,634.5 L820.8,632.5 L822.4,630.2 L824.7,628.4 L826.7,627.7 L827.6,625.8 L830.0,624.2 L829.0,621.6 L829.5,619.7 L829.2,617.5 L830.9,616.6 L832.6,614.3 L835.0,612.5 L838.3,612.1 L839.5,610.9 L842.2,609.8 L845.0,609.2 L846.8,608.4 L849.5,606.9 L851.4,604.3 L854.2,603.3 M849.2,581.7 L847.7,583.6 L846.7,585.8 L848.7,589.1 L850.0,590.8 L851.2,592.8 L853.3,595.0 L854.1,597.0 L854.3,599.5 L854.2,602.5 M854.2,603.3 L857.3,605.0 L859.2,605.8 L860.0,607.9 L860.3,611.0 L861.5,614.5 L861.9,616.3 L862.5,620.0 L865.0,619.9 L867.6,620.1 L870.0,620.8 L872.4,618.0 L874.2,616.7 L876.4,618.3 L878.1,620.2 L879.2,622.5 L882.4,622.1 L885.0,621.7 L887.1,623.7 L888.5,624.8 L890.0,626.7 M831.7,361.7 L829.8,363.1 L827.9,364.2 L826.5,363.8 L824.6,364.2 L823.3,365.0 L825.4,366.7 L827.1,367.9 L826.7,370.8 L829.2,372.1 M827.5,482.5 L826.7,485.0 L826.2,485.0 M906.7,537.1 L905.3,536.0 L904.0,534.6 L901.7,533.3 L903.2,532.2 L905.0,530.0 L906.2,531.3 L908.9,532.8 L910.8,534.2 L914.0,535.0 L916.7,535.0 M906.7,537.1 L908.3,538.4 L910.8,539.2 L912.7,539.8 L915.1,540.3 L917.5,541.7" fill="none" stroke="#5a5a5a" stroke-width="1" stroke-linejoin="round" stroke-linecap="round" shape-rendering="crispEdges"/>
<path d="M146.0,479.5 L143.9,477.8 L140.5,477.0 L139.4,475.6 L136.3,475.4 L135.0,474.0 L132.0,472.5 L130.8,469.3 L130.7,467.3 L129.8,464.9 L130.2,462.6 L129.5,460.4 L129.0,457.0 L126.7,457.0 L123.4,456.5 L121.8,455.2 L118.5,455.7 L114.7,454.5 L113.4,454.2 L110.0,454.0 L107.3,451.8 L105.4,451.4 L103.7,450.1 L101.0,448.0 L97.8,446.6 L96.1,445.9 L93.0,445.5 L92.1,443.1 L91.5,441.1 L90.9,438.6 L90.3,436.3 L89.5,434.0 L89.0,431.0 L87.1,430.3 L84.9,428.7 L83.2,427.6 L81.0,426.5 L78.4,426.1 L75.5,425.4 L72.4,424.9 L70.0,425.0 L66.8,423.6 L65.0,422.0 L67.0,420.9 L70.5,419.7 L73.9,418.4 L76.0,417.5 L74.5,415.9 L72.5,412.5 L72.0,410.0 L71.1,406.6 L71.7,404.6 L72.1,401.3 L70.9,398.1 L71.0,396.0 L68.5,395.6 L65.4,394.5 L62.3,393.3 L60.0,392.0 L58.0,392.3 L55.3,391.8 L52.5,392.5 L51.7,390.0 L51.6,386.9 L51.0,383.8 L50.4,382.1 L48.7,379.5 L47.5,377.5 L49.1,375.9 L51.6,374.3 L54.0,372.5 L54.6,370.6 L54.6,367.5 L55.6,366.0 L55.5,363.0 L58.1,361.2 L60.6,360.4 L62.8,359.5 L65.9,358.3 L68.5,356.1 L71.0,355.5 L73.2,355.3 L76.2,354.2 L78.8,352.9 L81.7,352.5 L85.0,351.0 L85.4,353.0 L86.9,355.3 L87.5,357.5 L89.7,357.7 L92.8,357.0 L96.0,355.7 L98.8,355.1 L101.0,355.5 L102.9,353.1 L103.2,350.5 L105.7,348.9 L105.7,347.4 L107.2,344.5 L108.8,342.5 L111.3,342.1 L114.1,343.5 L117.8,343.4 L120.4,343.3 L122.5,343.8 L124.7,342.4 L126.8,340.2 L128.9,338.9 L130.0,337.0 L133.0,335.6 L135.4,335.1 L137.8,334.2 L140.8,333.2 L142.0,332.5 L145.2,330.8 L147.3,329.7 L150.5,328.6 L152.5,328.0 L155.6,327.2 L158.3,325.7 L160.7,323.7 L162.5,324.0 L165.4,322.1 L168.0,321.0 L167.8,318.3 L166.9,316.2 L167.5,313.9 L166.8,311.8 L167.0,308.8 L168.4,307.1 L170.5,304.8 L171.0,303.0 L174.2,302.2 L176.0,300.7 L178.0,300.0 L178.5,297.5 L178.2,295.5 L177.5,293.8 L176.7,291.1 L174.5,289.3 L174.3,287.4 L172.1,284.1 L171.0,282.5 L171.6,278.8 L171.0,276.6 L170.9,273.5 L171.0,271.0 L169.6,269.7 L166.8,268.0 L164.3,266.9 L162.0,264.5 L165.1,263.5 L167.4,262.6 L170.0,262.3 L171.8,261.0 L175.0,260.0 L177.4,260.1 L180.3,258.2 L184.0,257.2 L186.1,257.2 L188.7,256.0 L191.5,256.4 L195.0,255.0 L196.9,255.9 L200.3,256.7 L202.5,258.0 L205.5,256.8 L206.8,256.5 L210.0,256.0 L208.4,254.7 L206.7,253.8 L205.5,252.0 L205.4,249.2 L205.6,247.3 L205.0,245.0 L206.7,242.8 L208.2,239.5 L209.6,238.4 L210.6,235.0 L212.5,232.5 L213.2,230.0 L213.8,227.7 L215.3,225.8 L216.5,222.4 L217.0,220.0 L218.1,218.1 L220.0,216.8 L222.0,216.9 L224.9,219.4 L227.0,220.2 L228.5,220.7 L231.2,221.2 L234.0,222.5 L236.4,222.4 L239.1,221.8 L241.5,221.1 L245.0,221.8 L247.5,221.0 L250.3,222.7 L252.5,223.8 L255.2,223.4 L257.8,222.0 L260.7,221.1 L262.5,220.0 L263.9,217.8 L265.5,215.0 L265.1,212.5 L264.7,210.0 L264.7,206.9 L264.8,204.3 L263.9,202.1 L264.0,200.0 L264.7,198.1 L266.0,195.2 L266.0,193.0 L268.5,192.6 L269.9,192.9 L273.2,192.8 L275.0,192.0 L277.8,190.5 L279.7,190.1 L282.5,189.3 L285.0,187.5 L284.5,185.6 L285.6,182.2 L285.0,180.0 L285.8,178.5 L287.5,177.0 L291.0,176.3 L292.3,177.4 L296.5,177.1 L298.7,177.3 L300.6,177.5 L304.0,177.0 L304.4,179.9 L304.4,182.3 L305.0,184.0 L306.4,184.9 L307.5,188.3 L309.0,189.5 L311.5,190.3 L313.2,191.3 L315.2,193.3 L317.5,194.0 L319.0,195.4 L322.2,197.5 L324.0,198.8 L326.0,201.0 L328.9,200.8 L331.5,200.4 L332.9,201.3 L336.0,201.0 L338.5,201.7 L340.8,202.1 L344.0,204.0 L346.1,205.1 L347.8,206.1 L350.0,208.0 L350.9,210.3 L351.9,213.0 L353.3,215.0 L354.0,217.5 L356.3,219.7 L357.0,221.3 L359.3,222.3 L361.0,225.0 L361.8,227.2 L361.4,228.7 L362.0,231.0 L361.2,233.2 L359.5,236.0 L359.7,238.9 L361.0,240.5 L359.9,243.3 L358.8,244.6 L356.9,246.6 L355.5,249.0 L357.0,252.5 L357.1,255.5 L358.0,257.5 L360.3,258.5 L363.0,258.5 L366.5,259.3 L369.1,259.2 L372.5,260.5 L375.7,261.2 L377.7,261.8 L380.5,261.7 L383.3,261.4 L386.0,262.0 L388.0,262.2 L391.6,262.3 L393.1,262.5 L395.7,262.4 L399.4,262.3 L402.1,261.8 L404.0,262.5 L406.4,264.0 L409.5,265.1 L412.7,266.7 L415.0,267.0 L417.3,267.7 L419.2,269.8 L422.4,271.7 L424.3,272.5 L427.1,274.1 L429.0,275.0 L431.5,274.8 L435.3,276.1 L437.8,276.3 L440.0,277.0 L440.6,279.1 L441.8,280.6 L442.5,282.5 L442.9,285.1 L444.4,286.8 L445.1,289.6 L447.3,292.9 L447.8,294.7 L449.0,297.5 L450.9,298.4 L452.9,300.6 L453.7,302.0 L456.1,304.0 L457.5,306.0 L460.9,306.8 L463.4,306.7 L466.0,307.3 L468.4,307.6 L471.0,307.5 L474.0,308.1 L476.0,308.8 L478.4,308.2 L482.1,309.3 L484.6,308.6 L487.4,309.3 L490.0,310.0 L492.8,310.2 L496.1,310.4 L498.8,311.5 L501.9,310.5 L504.1,311.2 L507.6,312.3 L510.0,312.0 L513.1,312.0 L516.4,310.7 L517.8,311.3 L521.3,309.8 L525.1,309.6 L527.0,308.9 L530.0,309.0 L533.1,309.8 L535.1,309.7 L537.5,309.7 L539.5,310.3 L541.9,310.8 L545.0,311.0 L547.3,311.0 L550.7,311.8 L552.6,313.7 L556.0,314.0 L557.6,315.8 L557.8,317.7 L560.0,319.5 L563.2,319.6 L564.4,319.6 L567.3,319.8 L570.2,320.8 L572.5,321.0 L574.5,322.2 L578.2,323.1 L580.7,323.9 L581.9,325.5 L585.0,326.0 L587.2,325.7 L589.9,326.9 L593.9,326.3 L595.5,327.5 L598.7,326.5 L601.1,326.9 L604.0,327.5 L605.2,329.2 L605.0,330.5 L607.4,330.8 L609.6,331.8 L612.5,332.0 L613.8,330.9 L615.9,328.1 L617.5,327.5 L620.3,327.1 L622.5,325.6 L625.0,324.3 L627.4,324.2 L630.3,322.9 L632.5,322.5 L636.0,321.8 L638.1,320.6 L639.7,320.0 L643.0,318.8 L645.0,317.6 L647.8,316.7 L651.5,316.6 L653.3,314.9 L656.0,314.5 L658.2,314.8 L661.1,314.2 L664.3,314.9 L666.2,314.4 L670.0,314.5 L672.3,314.5 L675.2,314.9 L677.5,315.0 L679.5,314.4 L683.3,314.7 L685.1,314.5 L689.0,314.4 L691.5,313.9 L694.0,314.0 L696.0,313.6 L698.2,311.8 L700.0,310.5 L702.6,309.6 L704.6,308.9 L706.7,307.9 L709.0,307.5 L710.6,306.5 L713.0,304.5 L713.6,302.7 L715.8,300.8 L717.5,299.0 L718.9,297.7 L721.6,297.1 L723.3,295.5 L726.0,294.0 L728.1,292.9 L731.3,291.7 L733.4,290.4 L735.0,289.7 L737.5,288.0 L736.9,286.4 L735.8,284.3 L735.0,282.5 L733.1,281.3 L731.2,277.2 L728.8,276.3 L727.5,274.0 L729.1,271.8 L729.5,270.2 L731.0,267.5 L733.1,266.2 L734.2,264.1 L735.9,262.7 L737.5,260.0 L739.4,260.2 L743.3,261.2 L745.6,261.4 L748.3,262.0 L750.0,263.0 L752.4,263.1 L755.2,265.2 L757.5,265.4 L759.6,265.8 L762.5,267.0 L765.0,266.1 L767.6,265.4 L769.6,265.4 L772.0,264.1 L775.0,264.0 L777.9,262.2 L780.1,260.1 L781.3,258.8 L784.1,255.1 L786.0,254.0 L789.0,253.5 L790.7,253.2 L794.4,253.2 L797.5,253.2 L799.0,252.6 L803.1,253.2 L805.0,252.5 L808.2,251.1 L810.1,248.7 L813.1,246.9 L815.0,246.0 L815.5,244.6 L815.5,242.0 L817.5,240.8 L819.2,238.7 L821.7,237.4 L824.0,235.0 L825.9,234.3 L828.3,233.6 L830.7,232.9 L834.3,233.4 L836.0,232.5 L838.0,231.3 L840.0,229.5 L843.5,229.4 L844.9,228.6 L848.1,228.2 L852.0,228.1 L854.6,227.6 L857.2,227.1 L860.0,226.0 L862.5,226.6 L865.6,227.4 L867.2,228.3 L870.0,229.0 L871.7,228.9 L874.1,228.6 L876.7,229.1 L879.5,229.5 L879.9,226.7 L880.0,224.0 L878.6,222.5 L877.0,220.4 L876.0,217.5 L874.4,215.5 L870.9,214.0 L869.9,212.1 L867.5,210.5 L865.5,208.6 L863.2,207.5 L861.8,206.0 L859.0,203.8 L857.5,202.0 L854.8,202.0 L852.6,201.0 L850.6,200.6 L847.5,200.0 L844.8,202.0 L842.0,203.2 L839.9,205.2 L836.6,205.8 L835.0,207.5 L832.5,206.0 L830.1,205.1 L827.4,204.6 L825.0,204.0 L822.2,203.8 L819.6,205.0 L817.4,204.9 L814.4,205.2 L812.6,206.1 L810.0,206.0 L807.3,204.6 L806.0,202.3 L804.8,201.7 L802.0,200.0 L802.9,198.6 L805.8,197.9 L807.0,196.0 L807.4,194.2 L807.3,191.2 L808.0,189.5 L808.9,186.6 L810.8,184.7 L812.1,181.5 L812.9,180.1 L814.3,176.7 L815.6,175.0 L816.9,172.7 L818.6,169.7 L819.5,167.5 L821.5,165.0 L822.5,163.0 L824.2,164.0 L827.9,165.6 L830.2,166.0 L832.8,167.0 L834.6,166.9 L837.6,168.3 L840.2,168.6 L842.5,170.0 L844.7,169.2 L847.6,166.4 L849.2,165.6 L852.2,163.7 L855.0,162.5 L857.2,161.3 L860.3,160.8 L862.6,160.9 L865.8,160.6 L867.5,159.5 L869.3,157.6 L870.0,156.0 L867.9,154.5 L867.0,152.5 L867.9,150.3 L870.1,148.1 L870.9,145.2 L872.5,144.0 L873.5,141.9 L874.9,139.9 L875.7,136.9 L877.8,135.2 L879.0,131.9 L880.0,130.0 L882.5,128.1 L884.0,125.3 L886.0,124.0 L888.7,122.9 L890.6,120.5 L892.8,119.8 L895.0,117.5 L895.4,115.0 L894.7,112.5 L894.0,109.0 L890.7,107.8 L887.6,107.3 L886.2,106.6 L882.5,106.0 L882.7,104.0 L884.0,102.5 L886.2,101.1 L888.0,99.6 L890.9,98.7 L892.8,96.3 L894.9,95.5 L897.5,94.0 L899.3,93.7 L902.2,93.7 L905.0,92.6 L907.6,92.3 L910.0,92.0 L912.8,91.7 L916.5,91.6 L919.4,90.7 L921.7,90.2 L924.9,89.5 L927.8,89.9 L930.0,89.0 L932.6,89.0 L935.0,88.3 L938.1,88.4 L939.6,87.9 L942.3,87.5 L945.0,87.0 L947.8,87.6 L949.9,88.7 L953.9,90.1 L956.0,91.0 L959.1,92.1 L961.4,92.3 L964.8,92.3 L968.0,93.2 L970.0,94.0 L972.6,94.5 L974.7,95.8 L977.4,96.6 L981.8,96.6 L984.0,97.5 L985.1,99.4 L986.9,101.4 L989.0,102.8 L991.0,105.0 L992.4,107.4 L993.8,109.8 L996.5,111.9 L997.5,114.0 L998.3,117.0 L999.1,120.4 L1000.0,122.5 L1001.0,124.1 L1002.5,126.8 L1003.0,129.3 L1005.0,131.9 L1006.0,134.0 L1007.6,136.3 L1009.1,138.8 L1009.7,141.6 L1011.5,143.2 L1012.5,145.0 L1013.0,147.7 L1013.5,150.2 L1015.3,154.1 L1016.0,156.0 L1017.2,159.0 L1018.2,161.2 L1018.6,163.0 L1020.0,165.0 L1023.5,166.3 L1025.0,168.2 L1027.5,169.0 L1030.4,169.3 L1033.2,169.7 L1034.3,168.3 L1037.0,168.8 L1040.0,169.0 L1041.8,170.0 L1044.7,171.4 L1048.2,173.2 L1050.0,174.0 L1052.7,174.2 L1054.5,175.1 L1056.4,174.9 L1059.0,175.0 L1061.0,176.5 L1062.5,178.8 L1063.9,179.7 L1066.0,181.0 L1067.7,181.5 L1071.0,182.0 L1072.5,183.0 L1073.4,185.8 L1073.8,189.3 L1074.5,191.1 L1075.0,194.0 L1074.1,195.7 L1074.0,199.0 L1076.1,202.0 L1077.2,203.2 L1079.0,206.0 L1082.4,205.9 L1085.1,206.1 L1086.7,207.3 L1090.0,207.5 L1092.3,207.0 L1095.2,206.6 L1099.4,206.7 L1100.8,206.3 L1105.0,206.4 L1107.5,206.0 L1109.8,204.5 L1111.3,202.9 L1112.5,201.0 L1114.8,200.5 L1118.0,198.7 L1120.6,198.3 L1122.3,197.4 L1125.0,196.0 L1126.8,196.0 L1130.1,195.3 L1132.9,193.8 L1135.6,193.3 L1137.0,194.0 L1140.0,193.0 L1143.2,192.5 L1145.5,193.3 L1148.1,192.0 L1150.2,192.0 L1152.5,192.5 L1149.5,194.3 L1148.4,196.0 L1146.8,197.0 L1144.0,199.0 L1145.4,201.6 L1145.9,203.2 L1147.5,206.0 L1144.6,208.1 L1143.1,209.5 L1140.3,210.8 L1137.5,212.5 L1137.4,215.2 L1136.3,218.3 L1135.5,220.8 L1134.7,221.7 L1134.0,225.0 L1133.0,228.7 L1132.4,230.9 L1131.0,232.6 L1130.2,236.9 L1129.0,239.0 L1127.6,241.2 L1126.1,243.9 L1125.4,245.7 L1123.7,247.8 L1122.5,250.0 L1119.7,250.9 L1117.5,252.0 L1118.0,253.9 L1117.8,256.9 L1116.6,259.1 L1117.0,261.0 L1114.0,260.4 L1112.8,260.4 L1109.4,260.2 L1107.5,260.0 L1105.7,259.1 L1103.0,258.5 L1101.2,258.2 L1098.5,256.5 L1096.0,256.0 L1092.7,257.5 L1091.6,259.5 L1088.0,261.7 L1086.0,262.5 L1084.2,263.5 L1081.7,263.4 L1079.0,265.0 L1080.2,268.2 L1081.1,270.5 L1082.5,272.5 L1083.3,274.3 L1083.1,277.8 L1083.6,280.6 L1084.7,282.5 L1084.5,285.0 L1084.2,287.5 L1084.2,288.9 L1084.1,292.3 L1084.5,294.0 L1083.7,295.5 L1084.6,297.5 L1084.0,300.0 L1081.7,302.1 L1079.1,303.9 L1077.6,304.2 L1075.0,306.0 L1072.1,307.1 L1070.0,309.0 L1071.8,311.1 L1072.1,312.3 L1073.0,315.0 L1071.6,312.3 L1070.0,310.4 L1068.2,308.9 L1066.2,306.7 L1065.0,305.0 L1062.6,304.0 L1060.4,304.6 L1059.0,304.0 L1057.7,306.8 L1058.2,308.9 L1056.3,311.2 L1056.0,314.0 L1054.0,315.0 L1051.5,316.5 L1049.9,315.9 L1047.5,317.5 L1045.4,319.5 L1043.4,320.9 L1041.0,322.5 L1038.5,323.1 L1036.1,324.1 L1032.3,324.7 L1030.7,324.3 L1027.5,325.0 L1028.0,327.4 L1028.8,330.1 L1028.7,331.7 L1030.0,334.0 L1027.1,335.0 L1025.0,336.0 L1022.3,335.3 L1020.0,335.1 L1016.5,335.1 L1013.5,334.5 L1011.0,334.0 L1009.2,331.8 L1008.3,330.1 L1006.0,328.0 L1003.9,329.6 L1001.2,330.8 L1000.0,332.5 L998.8,335.2 L997.1,336.3 L995.5,338.8 L995.0,341.0 L992.7,341.7 L990.6,343.3 L987.5,344.7 L985.0,346.0 L983.0,347.0 L981.2,349.1 L978.1,350.2 L976.1,352.2 L974.7,353.4 L972.5,355.0 L971.0,356.5 L969.0,358.0 L965.8,359.7 L964.4,360.2 L961.9,363.0 L960.0,364.0 L957.3,365.1 L954.4,366.7 L951.8,368.0 L950.0,369.0 L947.2,369.3 L945.0,370.8 L942.1,371.5 L939.8,371.3 L936.7,372.5 L933.6,374.3 L932.0,374.2 L928.6,375.8 L926.7,376.7 L924.1,377.9 L921.5,379.1 L919.0,381.3 L916.7,381.7 L915.3,383.3 L911.7,384.7 L910.0,385.8 L908.1,386.7 L904.8,388.4 L902.5,390.0 L901.5,388.2 L901.7,386.7 L904.2,385.4 L905.9,385.8 L908.2,384.3 L910.8,383.3 L911.5,381.2 L911.7,378.3 L909.6,376.9 L907.9,376.5 L905.0,375.8 L906.5,373.1 L908.3,370.8 L910.7,369.4 L912.5,366.7 L915.3,365.1 L916.7,363.3 L918.3,361.6 L920.1,358.7 L920.9,357.8 L922.5,355.0 L921.0,352.2 L919.4,351.0 L917.4,348.2 L915.8,346.7 L913.5,346.2 L911.3,347.0 L908.8,346.4 L905.5,346.3 L903.3,346.7 L901.0,349.1 L898.9,349.1 L896.7,351.7 L895.3,353.1 L894.4,355.6 L892.4,358.2 L891.7,360.0 L889.3,361.4 L887.0,362.2 L884.0,362.6 L882.0,363.3 L879.2,364.2 L876.7,365.0 L874.8,366.2 L873.3,367.9 L871.6,369.5 L869.2,371.7 L869.0,374.0 L868.8,375.8 L867.7,377.6 L865.0,379.6 L863.4,380.9 L861.7,382.9 L859.3,383.6 L856.7,383.8 L855.4,384.4 L854.6,386.2 L853.0,385.7 L851.2,384.2 L850.1,382.2 L848.3,380.4 L846.4,380.1 L845.0,379.2 L845.0,381.7 L843.8,384.2 L843.3,387.1 L842.0,387.9 L840.8,389.2 L841.0,391.1 L840.0,392.5 L838.8,393.8 L840.9,395.5 L842.2,397.6 L843.3,398.8 L845.0,397.5 L846.0,398.8 L847.5,400.8 L849.2,401.7 L851.7,402.9 L853.8,403.0 L855.8,404.2 L857.5,402.5 L860.2,402.0 L862.5,402.5 L864.0,402.0 L865.4,403.4 L866.0,406.0 L868.0,407.4 L869.5,409.0 L867.0,410.5 L864.9,411.7 L863.5,413.0 L862.6,414.3 L862.5,416.0 L863.8,416.9 L864.5,419.0 L867.1,420.4 L869.0,421.5 L871.3,422.7 L874.0,423.0 L875.8,422.5 L878.0,421.5 L879.2,420.0 L879.0,418.5 L881.9,416.8 L884.0,416.5 L884.7,414.4 L886.0,412.5 L887.4,411.4 L890.0,410.5 L892.1,410.5 L895.0,409.0 L896.6,410.5 L899.0,411.0 L900.6,412.4 L903.0,413.0 L905.0,412.9 L906.0,412.5 L908.2,414.3 L910.0,415.5 L911.8,416.1 L913.4,416.5 L916.0,416.5 L918.3,414.7 L920.0,414.5 L921.8,415.3 L923.0,417.0 L925.1,417.8 L927.9,417.9 L930.0,418.0 L929.0,420.1 L929.0,423.0 L927.5,424.1 L926.0,425.0 L925.6,426.7 L924.0,428.5 L921.6,427.5 L919.0,427.0 L916.0,427.7 L914.0,428.5 L911.9,429.5 L909.0,430.0 L906.7,431.3 L904.0,432.5 L901.0,433.7 L899.0,434.0 L898.1,435.9 L897.0,437.0 L895.4,438.5 L894.0,439.5 L893.2,440.7 L893.0,443.0 L891.1,444.1 L889.0,444.5 L888.0,442.0 L886.8,443.0 L885.0,443.0 L885.4,445.0 L886.0,446.0 L885.2,447.0 L884.0,449.0 L882.4,450.7 L880.0,452.0 L878.4,452.8 L876.0,454.5 L874.7,456.4 L874.0,459.0 L872.4,460.9 L871.0,464.0 L868.5,465.5 L868.6,467.0 L868.0,469.0 L869.2,470.7 L872.0,472.0 L873.9,472.4 L875.4,474.4 L878.0,476.0 L880.9,476.9 L883.6,479.0 L886.0,479.5 L886.7,481.3 L887.4,483.1 L889.0,485.0 L890.1,488.2 L891.8,490.5 L893.0,493.0 L894.5,495.0 L895.0,496.8 L896.3,499.9 L897.0,502.0 L897.5,504.1 L897.8,507.9 L899.0,510.2 L899.0,513.0 L901.1,514.8 L903.8,516.7 L905.5,518.3 L907.5,520.0 L907.8,522.6 L909.2,524.2 L911.0,524.9 L913.3,526.7 L915.2,529.0 L916.7,530.8 L917.6,533.8 L917.9,535.8 L918.2,537.6 L917.5,540.0 L919.1,541.2 L920.4,542.1 L917.5,541.8 L916.7,543.2 L916.7,545.0 L917.6,546.8 L917.9,548.3 L918.4,551.3 L917.9,553.3 L918.8,554.7 L920.0,556.2 L917.9,555.0 L916.7,552.5 L914.8,552.6 L911.6,552.2 L909.2,552.9 L907.0,555.0 L905.0,555.8 L903.2,555.7 L900.8,557.1 L902.6,557.6 L904.2,560.2 L905.8,560.8 L907.5,563.0 L908.8,564.9 L910.8,567.5 L912.5,568.4 L914.2,570.0 L916.9,570.8 L917.9,572.1 L916.3,574.3 L915.4,575.8 L916.8,577.7 L917.1,580.0 L917.3,583.5 L918.3,585.8 L916.7,586.7 L914.2,585.8 L912.5,587.5 L912.9,589.1 L913.3,591.7 L912.6,593.5 L910.8,595.0 L909.2,597.5 L910.3,599.6 L911.7,600.0 L911.5,602.1 L911.2,603.3 L910.1,603.4 L908.3,604.2 L906.3,605.3 L905.0,607.5 L903.2,609.3 L901.7,610.8 L900.5,611.4 L898.3,611.7 L895.9,613.5 L895.0,615.0 L895.0,618.1 L894.7,620.0 L893.8,621.7 L892.7,624.0 L891.0,624.4 L890.0,626.0 L888.7,628.7 L886.0,630.0 L884.8,632.0 L883.3,632.7 L881.3,634.7 L882.6,635.2 L884.7,635.3 L884.7,636.8 L884.7,639.0 L882.7,639.8 L881.3,639.3 L879.3,640.0 L880.1,642.0 L879.7,643.3 L878.4,643.5 L876.7,644.7 L874.7,646.7 L876.0,649.3 L876.1,650.9 L875.7,653.3 L876.0,654.5 L876.0,656.3 L877.6,657.7 L879.3,658.0 L878.9,659.8 L879.7,661.3 L877.7,661.7 L876.7,662.7 L874.0,664.0 L871.3,662.7 L868.7,661.3 L866.7,662.7 L867.7,663.5 L869.3,665.3 L870.0,667.3 L868.1,668.2 L866.7,668.0 L866.0,670.0 L865.3,671.4 L864.0,672.7 L861.3,673.3 L859.3,675.3 L858.8,676.6 L858.7,678.7 L856.7,680.7 L855.0,679.7 L853.3,678.7 L852.8,680.4 L851.3,682.7 L849.8,681.5 L848.7,680.0 L846.7,682.0 L847.7,684.8 L848.7,686.0 L847.0,688.4 L845.3,689.3 L843.8,690.5 L843.3,692.0 L841.7,692.8 L840.7,694.0 L839.5,695.7 L837.3,697.3 L836.0,700.0 L833.4,700.5 L831.7,700.0 L829.7,700.4 L826.7,702.5 L824.9,703.8 L823.1,706.6 L821.7,708.3 L819.0,709.4 L817.1,712.0 L815.0,713.3 L811.8,713.7 L808.5,715.0 L806.3,714.7 L803.3,715.8 L800.5,714.9 L798.1,715.8 L796.3,714.7 L793.3,715.0 L790.5,716.7 L788.8,717.9 L786.7,720.0 L783.8,720.6 L780.6,721.7 L778.3,721.7 L775.7,719.8 L774.1,719.9 L772.2,718.6 L769.2,717.5 L769.5,718.6 L771.0,720.0 L770.0,721.0 L768.9,724.0 L767.5,726.0 L766.0,727.9 L765.0,731.0 L762.9,732.2 L760.6,733.3 L758.5,734.0 L756.1,734.4 L754.0,735.0 L751.2,736.4 L750.0,737.8 L748.0,739.5 L746.6,738.3 L745.0,738.0 L743.0,738.0 L740.9,737.7 L739.0,737.0 L737.9,738.6 L735.0,740.0 L732.1,741.0 L730.0,742.0 L726.7,742.3 L725.0,743.5 L723.0,743.5 L720.0,744.0 L718.6,745.5 L715.9,745.7 L714.0,747.0 L712.4,747.6 L710.0,748.5 L708.6,750.4 L707.0,751.0 L706.3,752.2 L705.5,754.5 L707.1,754.1 L708.5,755.0 L709.5,757.5 L710.6,760.0 L712.0,761.0 L712.9,762.7 L713.5,765.5 L711.6,766.7 L710.0,767.0 L707.9,767.6 L705.0,768.5 L702.1,768.0 L700.5,768.0 L700.1,764.9 L699.5,763.0 L698.3,761.0 L697.4,759.8 L697.0,757.0 L696.4,755.3 L697.2,752.2 L696.5,750.0 L697.1,747.6 L698.9,746.5 L699.5,744.0 L698.4,742.6 L697.0,741.5 L694.8,743.3 L693.0,743.5 L690.7,743.2 L688.7,743.6 L686.0,744.0 L685.1,742.2 L685.0,740.5 L683.1,740.0 L679.6,739.4 L678.0,738.5 L676.0,740.5 L673.6,740.7 L671.2,741.6 L669.0,742.0 L667.0,741.4 L664.0,739.5 L661.8,739.7 L660.0,740.0 L657.5,739.5 L655.3,738.8 L652.6,737.2 L650.2,736.1 L648.1,734.6 L646.3,733.8 L644.0,732.5 L643.8,730.5 L642.3,728.0 L641.4,725.6 L641.0,724.0 L642.2,722.4 L643.3,719.5 L644.5,717.3 L645.0,715.0 L642.6,714.6 L640.0,713.6 L638.2,713.7 L635.0,713.0 L632.4,712.8 L629.3,711.9 L628.0,710.9 L625.3,710.3 L622.5,710.0 L621.7,707.4 L620.0,705.5 L619.0,704.0 L616.2,705.6 L613.9,706.6 L612.3,707.6 L610.0,709.0 L608.4,711.4 L607.5,714.0 L604.7,714.3 L601.9,714.6 L599.0,715.0 L597.6,717.5 L596.3,719.1 L595.0,721.0 L593.1,719.7 L592.5,717.6 L590.0,716.0 L588.9,718.6 L587.5,720.0 L586.3,719.0 L585.3,716.3 L584.0,715.0 L582.2,717.3 L580.6,718.6 L579.3,720.7 L577.5,722.5 L574.7,721.2 L572.1,719.1 L570.2,717.0 L567.5,716.0 L566.6,718.2 L564.9,719.4 L564.3,722.4 L562.5,724.0 L560.4,723.2 L556.8,723.1 L554.0,722.5 L553.2,725.2 L552.2,726.7 L550.5,729.0 L551.0,731.5 L552.9,734.5 L553.3,736.4 L554.5,739.0 L554.3,741.2 L555.3,744.4 L554.4,747.1 L555.0,749.0 L552.9,749.0 L550.4,747.6 L547.4,748.0 L545.0,747.5 L544.9,744.5 L543.9,741.7 L543.0,738.5 L542.5,736.0 L539.9,738.2 L538.9,738.8 L535.8,739.8 L533.6,740.9 L531.0,742.5 L527.9,741.5 L525.6,740.2 L524.0,739.0 L523.1,736.5 L522.4,734.4 L521.0,731.0 L517.7,730.2 L515.4,730.7 L512.5,729.8 L510.9,730.4 L508.0,729.5 L508.8,726.6 L510.2,725.4 L510.9,721.8 L511.8,720.6 L512.5,717.5 L512.9,714.6 L514.0,712.9 L514.0,710.0 L511.2,708.8 L508.6,709.2 L506.7,708.8 L504.0,707.5 L503.5,705.4 L503.1,702.5 L502.2,700.0 L500.8,697.6 L500.0,695.0 L499.9,693.1 L500.1,691.4 L501.0,689.0 L498.9,689.5 L496.4,689.8 L492.4,689.2 L490.3,690.1 L487.1,689.2 L485.0,690.0 L482.9,691.3 L481.0,692.0 L479.0,692.5 L479.6,690.1 L481.0,687.1 L481.0,685.0 L479.9,682.6 L480.2,680.6 L479.0,677.5 L480.5,675.6 L481.6,673.4 L482.3,670.1 L484.0,667.5 L485.9,665.8 L487.9,662.9 L489.4,661.2 L491.7,660.4 L493.1,657.2 L495.0,656.0 L495.9,653.6 L497.3,651.3 L498.2,648.1 L500.0,646.0 L500.1,643.0 L500.6,641.2 L500.0,638.4 L499.8,635.9 L500.5,632.5 L500.6,630.2 L500.0,627.5 L499.4,624.5 L499.2,622.0 L499.5,620.0 L497.0,619.3 L494.6,618.0 L492.5,617.5 L491.2,614.7 L491.2,611.9 L490.9,609.8 L490.6,607.1 L490.0,605.0 L487.2,603.2 L485.0,602.5 L482.6,601.6 L482.3,600.3 L480.0,599.0 L478.4,600.1 L477.9,602.1 L476.0,604.0 L476.4,606.3 L475.9,607.9 L476.0,610.0 L473.8,612.4 L472.4,612.6 L470.0,615.0 L467.6,613.1 L466.0,612.5 L463.3,609.9 L462.2,609.0 L460.4,607.5 L457.5,606.0 L455.0,606.1 L452.2,605.0 L449.0,604.0 L446.2,605.3 L443.9,605.1 L442.3,605.3 L440.0,606.0 L438.1,607.9 L435.6,610.1 L434.8,611.2 L432.5,613.6 L430.0,615.0 L427.9,615.9 L425.7,617.4 L422.2,617.8 L419.9,619.2 L417.5,620.0 L416.1,622.6 L414.7,623.8 L413.2,625.9 L411.6,627.6 L410.0,630.0 L406.9,630.8 L404.4,630.3 L402.1,631.9 L399.8,632.0 L397.6,631.4 L395.0,632.5 L392.1,633.1 L388.7,632.3 L386.1,631.9 L383.1,632.2 L381.0,632.5 L380.9,629.7 L379.9,626.1 L379.9,623.1 L380.0,621.0 L377.8,620.9 L376.4,620.1 L374.0,620.0 L373.2,618.2 L372.6,616.1 L372.5,614.0 L370.3,612.9 L367.9,610.7 L366.0,609.0 L363.9,609.4 L362.5,611.0 L359.6,610.0 L357.4,609.9 L355.8,608.4 L352.5,607.5 L349.4,607.4 L346.8,606.9 L344.6,606.6 L341.7,606.0 L339.0,606.0 L337.6,607.4 L334.6,609.9 L333.6,611.5 L330.9,613.7 L329.0,615.0 L327.9,618.2 L327.6,619.7 L326.7,622.5 L326.0,625.0 L324.5,623.0 L324.2,621.4 L322.5,620.0 L321.8,617.6 L321.1,614.8 L321.3,613.4 L321.0,610.8 L320.0,608.0 L316.6,608.6 L315.3,610.0 L312.2,609.8 L310.3,611.1 L307.5,612.0 L304.9,611.5 L302.4,612.5 L300.6,612.8 L297.3,612.2 L295.6,613.1 L292.5,613.0 L289.1,611.7 L287.6,611.1 L285.4,608.5 L282.5,607.5 L280.2,608.8 L277.8,608.4 L276.1,610.1 L273.3,609.9 L271.0,611.0 L269.7,608.4 L267.9,607.2 L268.1,605.1 L266.0,603.0 L262.6,603.2 L260.2,604.4 L257.5,604.0 L256.1,602.2 L255.6,599.6 L255.0,597.5 L252.4,596.9 L250.8,595.4 L247.7,595.4 L245.8,593.8 L243.8,593.5 L241.0,592.0 L239.6,589.8 L239.0,587.8 L238.1,585.0 L237.5,583.0 L235.4,583.2 L232.4,584.6 L231.0,584.3 L228.0,585.0 L226.0,583.1 L224.7,580.4 L222.5,578.0 L219.8,576.0 L217.8,575.3 L215.9,574.9 L213.5,572.9 L211.6,571.8 L208.2,570.2 L206.9,568.9 L204.0,568.0 L202.8,566.3 L202.1,563.8 L201.0,562.5 L198.8,562.3 L196.6,562.2 L194.1,560.6 L191.1,560.5 L189.0,560.0 L187.5,562.9 L185.7,565.5 L185.0,568.0 L182.8,566.5 L181.2,564.5 L180.0,562.5 L176.8,562.0 L174.7,560.9 L172.6,559.3 L170.3,558.2 L168.3,558.1 L166.0,557.0 L164.3,555.7 L161.9,553.7 L160.5,550.9 L157.5,549.0 L155.2,548.5 L152.4,548.4 L149.0,549.0 L147.2,547.5 L145.3,545.5 L143.0,542.5 L142.5,540.7 L142.7,537.0 L142.5,535.0 L142.1,533.1 L139.8,530.3 L139.0,528.2 L137.0,526.0 L136.3,524.5 L135.9,522.2 L135.3,519.0 L135.0,517.0 L137.2,516.3 L139.6,515.1 L141.0,514.0 L142.7,516.5 L144.3,518.3 L145.0,520.5 L147.6,518.6 L149.1,516.1 L151.0,515.0 L151.1,511.8 L150.1,508.8 L149.4,507.4 L149.5,504.0 L147.6,502.9 L145.9,499.9 L144.1,498.1 L142.0,496.0 L141.7,492.8 L141.1,491.0 L140.6,488.3 L140.0,486.0 L142.0,483.6 L143.3,481.6Z M909.2,664.2 L910.8,664.6 L912.8,666.3 L914.2,667.9 L915.6,668.1 L917.1,668.8 L918.0,670.2 L918.8,671.7 L917.1,671.8 L915.8,672.9 L915.4,674.2 L914.6,675.8 L915.8,678.3 L914.9,680.6 L915.0,682.5 L914.4,684.3 L913.3,686.7 L912.3,688.8 L911.7,690.0 L911.2,691.5 L911.7,694.2 L910.7,695.9 L910.0,698.3 L909.9,700.3 L909.2,702.5 L908.0,705.3 L907.5,707.5 L906.2,709.5 L905.8,711.7 L905.2,713.7 L903.3,715.8 L902.2,717.3 L900.8,718.8 L899.4,720.1 L899.2,721.7 L899.4,723.1 L898.8,725.0 L898.8,727.1 L898.3,730.8 L898.1,732.9 L897.5,734.2 L895.8,734.6 L893.8,732.5 L893.2,729.7 L893.8,726.7 L892.5,724.6 L891.1,724.3 L889.2,723.3 L887.9,721.7 L885.8,719.2 L884.6,717.4 L884.6,715.0 L883.8,713.3 L883.8,711.2 L882.5,709.6 L882.8,708.3 L883.3,706.7 L884.2,703.6 L884.2,701.7 L883.2,699.8 L883.3,697.9 L884.2,695.9 L885.8,695.0 L885.9,692.9 L887.1,690.8 L889.2,689.2 L890.0,687.9 L891.2,686.2 L891.7,683.3 L892.8,681.5 L895.0,680.0 L896.2,677.5 L896.6,675.6 L898.3,674.2 L900.9,671.7 L901.7,669.6 L904.0,668.2 L905.8,667.9 L906.9,667.3 L907.5,665.4Z M689.0,775.0 L691.5,774.8 L693.5,773.4 L695.5,772.5 L697.7,772.5 L701.6,771.9 L704.0,772.5 L705.9,771.5 L708.3,771.3 L710.0,770.5 L712.0,769.6 L714.5,769.5 L716.7,770.2 L719.0,772.5 L719.5,775.4 L720.5,777.4 L721.5,779.0 L721.0,781.5 L719.4,782.7 L717.0,784.5 L715.5,786.8 L714.0,789.0 L713.2,791.1 L713.0,794.0 L712.4,796.1 L712.0,799.0 L709.5,800.3 L708.0,801.5 L706.5,803.0 L704.0,804.0 L703.0,806.5 L700.8,807.8 L698.0,808.0 L697.5,809.7 L696.5,811.0 L694.5,811.5 L692.2,811.2 L691.0,810.0 L688.1,809.4 L686.0,808.0 L684.6,807.3 L682.0,806.0 L680.4,804.8 L678.0,803.0 L677.1,801.4 L677.5,800.0 L678.1,798.1 L678.5,796.0 L677.9,794.6 L678.2,791.4 L677.5,790.0 L678.0,788.6 L678.0,786.0 L679.6,785.1 L681.5,783.5 L683.9,782.4 L686.0,780.0 L687.4,778.8 L688.0,776.5Z M772.0,1026.2 L774.1,1024.5 L776.2,1022.5 L778.0,1021.7 L781.4,1020.2 L783.7,1019.5 L785.0,1022.0 L782.5,1023.4 L782.0,1025.3 L780.0,1026.2 L778.0,1026.5 L775.0,1028.0 L772.7,1027.4Z" fill="none" stroke="#5a5a5a" stroke-width="1" stroke-linejoin="round" shape-rendering="crispEdges"/>
<path d="M932.1,679.2 L926.7,702.5" fill="none" stroke="#5a5a5a" stroke-width="2" shape-rendering="crispEdges"/>
<path d="M916.0,738.5 L902.5,756.5" fill="none" stroke="#5a5a5a" stroke-width="1.0" shape-rendering="crispEdges"/>
<path d="M882.5,791.5 L872.5,814.0" fill="none" stroke="#5a5a5a" stroke-width="1.0" shape-rendering="crispEdges"/>
<path d="M865.0,853.5 L865.0,875.0" fill="none" stroke="#5a5a5a" stroke-width="2" shape-rendering="crispEdges"/>
<path d="M863.5,936.0 L860.0,949.0 L855.0,959.0" fill="none" stroke="#5a5a5a" stroke-width="1.0" shape-rendering="crispEdges"/>
<path d="M815.0,1018.0 L801.5,1035.0" fill="none" stroke="#5a5a5a" stroke-width="1.0" shape-rendering="crispEdges"/>
<path d="M752.5,1105.0 L744.0,1109.0 L734.0,1111.5" fill="none" stroke="#5a5a5a" stroke-width="1.0" shape-rendering="crispEdges"/>
<path d="M670.3,1036.5 L669.6,1048.0 L671.8,1059.0" fill="none" stroke="#5a5a5a" stroke-width="1.4" shape-rendering="crispEdges"/>
<path d="M707.8,931.0 L707.3,942.0 L703.3,952.0" fill="none" stroke="#5a5a5a" stroke-width="1.4" shape-rendering="crispEdges"/>
<path d="M689.5,850.0 L696.0,860.0 L699.2,872.5" fill="none" stroke="#5a5a5a" stroke-width="1.0" shape-rendering="crispEdges"/>
<path d="M728.5,833.0h2.0 M742.0,835.0h2.0 M730.2,843.8h2.0 M731.5,850.0h2.0 M737.8,848.8h2.0 M746.5,847.5h2.0 M734.0,853.8h2.0 M747.0,854.5h2.0 M741.0,860.8h2.0 M774.0,856.2h2.0 M779.0,854.5h2.0 M785.2,851.2h2.0 M789.0,853.8h2.0 M782.8,862.5h2.0 M771.5,865.0h2.0 M822.0,848.0h2.0 M840.8,871.8h2.0 M798.2,896.8h2.0 M785.2,947.0h2.0 M822.8,947.0h2.0 M786.0,955.0h2.0 M790.2,956.2h2.0 M782.8,960.0h2.0 M775.2,958.8h2.0 M832.8,955.5h2.0 M839.0,956.2h2.0 M841.5,961.2h2.0 M831.5,962.5h2.0 M819.0,968.8h2.0 M824.0,967.0h2.0 M805.2,967.5h2.0 M766.5,972.5h2.0 M770.8,975.0h2.0 M777.8,972.0h2.0 M786.0,970.0h2.0 M796.5,973.8h2.0 M810.2,975.0h2.0 M833.5,970.0h2.0 M834.0,975.5h2.0 M785.2,978.0h2.0 M786.0,982.5h2.0 M800.2,979.5h2.0 M807.0,982.5h2.0 M819.0,982.0h2.0 M811.5,986.2h2.0 M747.0,986.8h2.0 M776.5,989.5h2.0 M799.0,989.5h2.0 M807.8,992.0h2.0 M766.5,993.8h2.0 M767.8,997.5h2.0 M772.8,1001.2h2.0 M777.0,1003.0h2.0 M784.0,1000.5h2.0 M819.0,995.0h2.0 M822.0,996.8h2.0 M814.0,1000.0h2.0 M741.5,1000.0h2.0 M747.8,1000.8h2.0 M752.0,1000.0h2.0 M731.5,1005.0h2.0 M727.8,1007.5h2.0 M795.2,1008.8h2.0 M800.2,1008.0h2.0 M796.5,1010.8h2.0 M754.5,1009.2h2.0 M761.5,1013.0h2.0 M760.2,1016.2h2.0 M785.2,1015.5h2.0 M736.5,1016.8h2.0 M732.8,1020.0h2.0 M730.2,1024.2h2.0 M729.0,1027.5h2.0 M771.5,1018.0h2.0 M789.0,1019.5h2.0 M754.0,1021.2h2.0 M701.5,1020.5h2.0 M710.8,1015.0h2.0 M710.2,1022.0h2.0 M791.5,1028.0h2.0 M786.0,1027.5h2.0 M787.8,1033.8h2.0 M770.2,1031.2h2.0 M765.2,1039.5h2.0 M759.5,1052.5h2.0 M747.0,1059.5h2.0 M744.0,1065.5h2.0 M747.0,1067.5h2.0 M748.5,1072.5h2.0 M747.8,1078.0h2.0 M753.5,1079.0h2.0 M738.5,1102.0h2.0 M742.0,1101.2h2.0 M692.8,1030.5h2.0 M696.5,1028.5h2.0 M809.0,751.5h2.0 M824.0,759.0h2.0 M755.5,783.5h2.0 M770.5,789.5h2.0 M873.0,700.0h2.0 M872.0,706.0h2.0 M944.0,654.0h2.0 M962.5,651.0h2.0 M919.0,661.0h2.0 M907.5,719.0h2.0 M909.0,731.0h2.0 M920.0,568.0h2.0 M923.0,572.0h2.0 M925.0,565.0h2.0 M921.0,576.0h2.0 M929.0,560.0h2.0" fill="none" stroke="#5a5a5a" stroke-width="1.5" shape-rendering="crispEdges"/>
<path d="M915.4,569.2 L917.5,565 L923.3,565 L925.8,568.3 L926.7,570.8 L923.3,574.2 L921.2,576.7 L918.3,574.2 L916.7,571.7Z M922.5,560h3.3 M916.7,562.6l9,0.8 M925.4,553.8l3,1.6 M930.8,554.2h2.1 M931.2,566.2h1 M915.4,600l0.9,1.3 M914.2,593.8h1" fill="#666" stroke="#666" stroke-width="1"/>
<path d="M919,567.5h2.5 M920.5,572h1.5" stroke="#d9d9d9" stroke-width="1.2" fill="none"/>
<path d="M874.7,635.7H884.7V639.0H874.7Z M872.7,658.0H875.5V661.7H872.7Z M877.0,657.3H879.7V661.7H877.0Z M873.0,661.0H878.0V663.0H873.0Z M862.7,665.3H867.0V670.0H862.7Z M846.3,680.0H849.5V683.7H846.3Z M850.5,680.5H854.7V683.2H850.5Z M886.0,628.3H888.7V632.3H886.0Z M826.7,700.5H831.0V703.5H826.7Z M772.0,719.0H775.0V722.0H772.0Z M777.0,721.0H781.0V725.5H777.0Z M774.0,725.0H778.0V728.0H774.0Z M746.0,737.5H749.0V740.0H746.0Z M751.0,737.0H754.0V739.5H751.0Z M709.5,748.5H713.0V751.0H709.5Z M711.0,752.0H713.5V755.5H711.0Z" fill="#666" stroke="none" shape-rendering="crispEdges"/>
<path d="M873.3,698.5H876.8V701.0H873.3Z M872.0,704.0H874.0V705.2H872.0Z M871.0,707.2H872.8V708.6H871.0Z M908.3,718.2H910.2V720.0H908.3Z M908.5,730.5H911.0V732.2H908.5Z" fill="#666" stroke="none" shape-rendering="crispEdges"/>
</svg>
<div class="frame"></div>
<h1 class="title">父系： <span class="lat" style="transform-origin:0 50.0px">O-Y81569_ (</span>不含下游<span class="lat" style="transform-origin:0 50.0px">)</span></h1>
<div class="ltitle">相对占比</div>
<div class="sw" style="top:805.00px;background:#FFFFE5"></div><div class="lb" style="top:806.50px">0.029% - 0.031%</div><div class="sw" style="top:838.60px;background:#FFF8C1"></div><div class="lb" style="top:840.10px">0.031% - 0.058%</div><div class="sw" style="top:872.20px;background:#FEE79B"></div><div class="lb" style="top:873.70px">0.058% - 0.083%</div><div class="sw" style="top:905.80px;background:#FECE65"></div><div class="lb" style="top:907.30px">0.083% - 0.110%</div><div class="sw" style="top:939.40px;background:#FEAC3A"></div><div class="lb" style="top:940.90px">0.110% - 0.142%</div><div class="sw" style="top:973.00px;background:#F68720"></div><div class="lb" style="top:974.50px">0.142% - 0.169%</div><div class="sw" style="top:1006.60px;background:#E1640E"></div><div class="lb" style="top:1008.10px">0.169% - 0.219%</div><div class="sw" style="top:1040.20px;background:#C14702"></div><div class="lb" style="top:1041.70px">0.219% - 0.321%</div><div class="sw" style="top:1073.80px;background:#933204"></div><div class="lb" style="top:1075.30px">0.321% - 0.397%</div><div class="sw" style="top:1107.40px;background:#662506"></div><div class="lb" style="top:1108.90px">0.397% - 0.500%</div>
<div class="author">作者<span class="lat" style="transform-origin:0 26.7px">:O1a</span>溯源群</div>
</body></html>
